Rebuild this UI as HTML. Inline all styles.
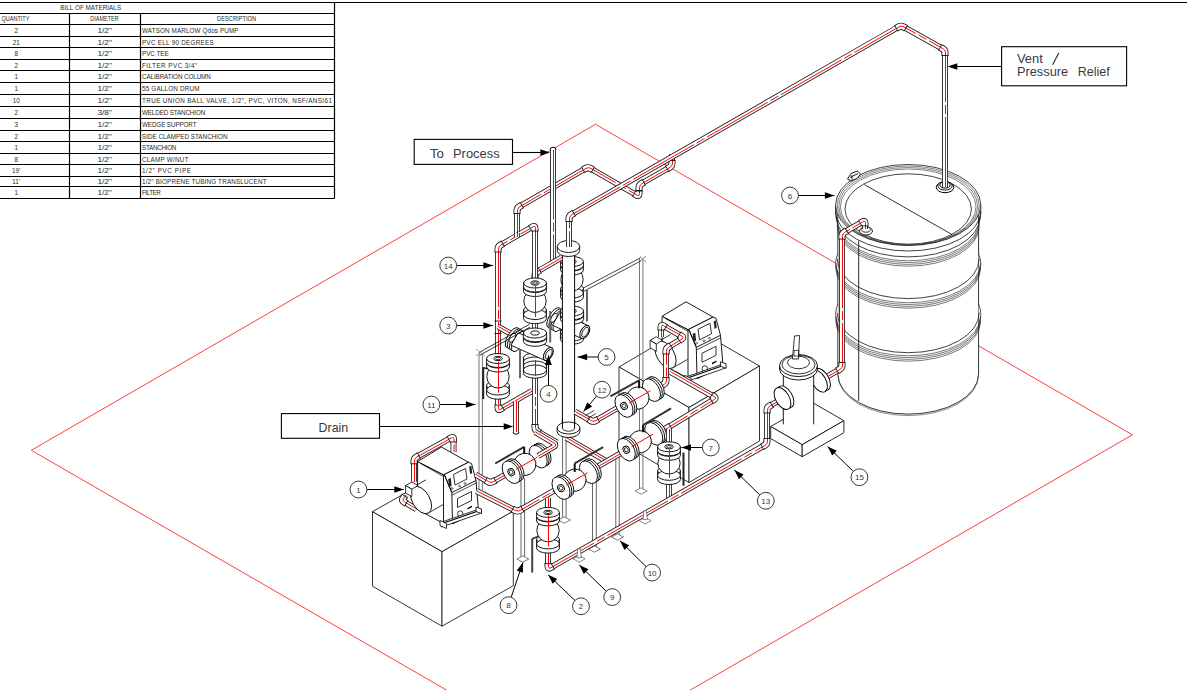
<!DOCTYPE html>
<html><head><meta charset="utf-8"><style>
html,body{margin:0;padding:0;background:#fff;width:1187px;height:690px;overflow:hidden}
svg{display:block}
text{font-family:"Liberation Sans",sans-serif}
</style></head><body>
<svg width="1187" height="690" viewBox="0 0 1187 690">
<rect width="1187" height="690" fill="#fff"/>
<g id="table" font-family="Liberation Sans" fill="#2a2a2a">
<line x1="0" y1="2.5" x2="1187" y2="2.5" stroke="#000" stroke-width="1.2" />
<line x1="0" y1="13.5" x2="334.5" y2="13.5" stroke="#000" stroke-width="1.2" />
<line x1="0" y1="24.5" x2="334.5" y2="24.5" stroke="#000" stroke-width="1.2" />
<line x1="0" y1="36.5" x2="334.5" y2="36.5" stroke="#000" stroke-width="1.2" />
<line x1="0" y1="47.5" x2="334.5" y2="47.5" stroke="#000" stroke-width="1.2" />
<line x1="0" y1="59.5" x2="334.5" y2="59.5" stroke="#000" stroke-width="1.2" />
<line x1="0" y1="70.5" x2="334.5" y2="70.5" stroke="#000" stroke-width="1.2" />
<line x1="0" y1="82.5" x2="334.5" y2="82.5" stroke="#000" stroke-width="1.2" />
<line x1="0" y1="94.5" x2="334.5" y2="94.5" stroke="#000" stroke-width="1.2" />
<line x1="0" y1="106.5" x2="334.5" y2="106.5" stroke="#000" stroke-width="1.2" />
<line x1="0" y1="118.5" x2="334.5" y2="118.5" stroke="#000" stroke-width="1.2" />
<line x1="0" y1="130.5" x2="334.5" y2="130.5" stroke="#000" stroke-width="1.2" />
<line x1="0" y1="141.5" x2="334.5" y2="141.5" stroke="#000" stroke-width="1.2" />
<line x1="0" y1="153.5" x2="334.5" y2="153.5" stroke="#000" stroke-width="1.2" />
<line x1="0" y1="164.5" x2="334.5" y2="164.5" stroke="#000" stroke-width="1.2" />
<line x1="0" y1="176.5" x2="334.5" y2="176.5" stroke="#000" stroke-width="1.2" />
<line x1="0" y1="186.5" x2="334.5" y2="186.5" stroke="#000" stroke-width="1.2" />
<line x1="0" y1="198.5" x2="334.5" y2="198.5" stroke="#000" stroke-width="1.2" />
<line x1="334.5" y1="2.5" x2="334.5" y2="198.5" stroke="#000" stroke-width="1.2" />
<line x1="69.5" y1="13.5" x2="69.5" y2="198.5" stroke="#000" stroke-width="1.2" />
<line x1="140.5" y1="13.5" x2="140.5" y2="198.5" stroke="#000" stroke-width="1.2" />
<text x="60.3" y="10" font-family="Liberation Sans" font-size="6.3" text-anchor="start" textLength="60.8" lengthAdjust="spacing" >BILL OF MATERIALS</text>
<text x="1.4" y="21.2" font-family="Liberation Sans" font-size="6.3" text-anchor="start" textLength="28" lengthAdjust="spacingAndGlyphs" >QUANTITY</text>
<text x="90.3" y="21.4" font-family="Liberation Sans" font-size="6.3" text-anchor="start" textLength="28.4" lengthAdjust="spacingAndGlyphs" >DIAMETER</text>
<text x="217" y="21.2" font-family="Liberation Sans" font-size="6.3" text-anchor="start" textLength="39.2" lengthAdjust="spacingAndGlyphs" >DESCRIPTION</text>
<text x="16.2" y="33.1" font-family="Liberation Sans" font-size="6.3" text-anchor="middle" >2</text>
<text x="104.7" y="33.1" font-family="Liberation Sans" font-size="6.3" text-anchor="middle" textLength="14.6" lengthAdjust="spacingAndGlyphs" >1/2&quot;</text>
<text x="142" y="33.1" font-family="Liberation Sans" font-size="6.3" text-anchor="start" textLength="96.5" lengthAdjust="spacing" >WATSON MARLOW Qdos PUMP</text>
<text x="16.2" y="44.6" font-family="Liberation Sans" font-size="6.3" text-anchor="middle" >21</text>
<text x="104.7" y="44.6" font-family="Liberation Sans" font-size="6.3" text-anchor="middle" textLength="14.6" lengthAdjust="spacingAndGlyphs" >1/2&quot;</text>
<text x="142" y="44.6" font-family="Liberation Sans" font-size="6.3" text-anchor="start" textLength="71.7" lengthAdjust="spacing" >PVC ELL 90 DEGREES</text>
<text x="16.2" y="56.1" font-family="Liberation Sans" font-size="6.3" text-anchor="middle" >8</text>
<text x="104.7" y="56.1" font-family="Liberation Sans" font-size="6.3" text-anchor="middle" textLength="14.6" lengthAdjust="spacingAndGlyphs" >1/2&quot;</text>
<text x="142" y="56.1" font-family="Liberation Sans" font-size="6.3" text-anchor="start" textLength="26.7" lengthAdjust="spacing" >PVC TEE</text>
<text x="16.2" y="67.6" font-family="Liberation Sans" font-size="6.3" text-anchor="middle" >2</text>
<text x="104.7" y="67.6" font-family="Liberation Sans" font-size="6.3" text-anchor="middle" textLength="14.6" lengthAdjust="spacingAndGlyphs" >1/2&quot;</text>
<text x="142" y="67.6" font-family="Liberation Sans" font-size="6.3" text-anchor="start" textLength="55.3" lengthAdjust="spacing" >FILTER PVC 3/4&quot;</text>
<text x="16.2" y="79.1" font-family="Liberation Sans" font-size="6.3" text-anchor="middle" >1</text>
<text x="104.7" y="79.1" font-family="Liberation Sans" font-size="6.3" text-anchor="middle" textLength="14.6" lengthAdjust="spacingAndGlyphs" >1/2&quot;</text>
<text x="142" y="79.1" font-family="Liberation Sans" font-size="6.3" text-anchor="start" textLength="68.8" lengthAdjust="spacing" >CALIBRATION COLUMN</text>
<text x="16.2" y="91.1" font-family="Liberation Sans" font-size="6.3" text-anchor="middle" >1</text>
<text x="104.7" y="91.1" font-family="Liberation Sans" font-size="6.3" text-anchor="middle" textLength="14.6" lengthAdjust="spacingAndGlyphs" >1/2&quot;</text>
<text x="142" y="91.1" font-family="Liberation Sans" font-size="6.3" text-anchor="start" textLength="57.5" lengthAdjust="spacing" >55 GALLON DRUM</text>
<text x="16.2" y="103.1" font-family="Liberation Sans" font-size="6.3" text-anchor="middle" >10</text>
<text x="104.7" y="103.1" font-family="Liberation Sans" font-size="6.3" text-anchor="middle" textLength="14.6" lengthAdjust="spacingAndGlyphs" >1/2&quot;</text>
<text x="142" y="103.1" font-family="Liberation Sans" font-size="6.3" text-anchor="start" textLength="189.9" lengthAdjust="spacing" >TRUE UNION BALL VALVE, 1/2&quot;, PVC, VITON, NSF/ANSI61</text>
<text x="16.2" y="115.1" font-family="Liberation Sans" font-size="6.3" text-anchor="middle" >2</text>
<text x="104.7" y="115.1" font-family="Liberation Sans" font-size="6.3" text-anchor="middle" textLength="14.6" lengthAdjust="spacingAndGlyphs" >3/8&quot;</text>
<text x="142" y="115.1" font-family="Liberation Sans" font-size="6.3" text-anchor="start" textLength="63.2" lengthAdjust="spacing" >WELDED STANCHION</text>
<text x="16.2" y="127.1" font-family="Liberation Sans" font-size="6.3" text-anchor="middle" >3</text>
<text x="104.7" y="127.1" font-family="Liberation Sans" font-size="6.3" text-anchor="middle" textLength="14.6" lengthAdjust="spacingAndGlyphs" >1/2&quot;</text>
<text x="142" y="127.1" font-family="Liberation Sans" font-size="6.3" text-anchor="start" textLength="54.5" lengthAdjust="spacing" >WEDGE SUPPORT</text>
<text x="16.2" y="138.6" font-family="Liberation Sans" font-size="6.3" text-anchor="middle" >2</text>
<text x="104.7" y="138.6" font-family="Liberation Sans" font-size="6.3" text-anchor="middle" textLength="14.6" lengthAdjust="spacingAndGlyphs" >1/2&quot;</text>
<text x="142" y="138.6" font-family="Liberation Sans" font-size="6.3" text-anchor="start" textLength="85.5" lengthAdjust="spacing" >SIDE CLAMPED STANCHION</text>
<text x="16.2" y="150.1" font-family="Liberation Sans" font-size="6.3" text-anchor="middle" >1</text>
<text x="104.7" y="150.1" font-family="Liberation Sans" font-size="6.3" text-anchor="middle" textLength="14.6" lengthAdjust="spacingAndGlyphs" >1/2&quot;</text>
<text x="142" y="150.1" font-family="Liberation Sans" font-size="6.3" text-anchor="start" textLength="34.3" lengthAdjust="spacing" >STANCHION</text>
<text x="16.2" y="161.6" font-family="Liberation Sans" font-size="6.3" text-anchor="middle" >8</text>
<text x="104.7" y="161.6" font-family="Liberation Sans" font-size="6.3" text-anchor="middle" textLength="14.6" lengthAdjust="spacingAndGlyphs" >1/2&quot;</text>
<text x="142" y="161.6" font-family="Liberation Sans" font-size="6.3" text-anchor="start" textLength="46.5" lengthAdjust="spacing" >CLAMP W/NUT</text>
<text x="16.2" y="173.1" font-family="Liberation Sans" font-size="6.3" text-anchor="middle" >19'</text>
<text x="104.7" y="173.1" font-family="Liberation Sans" font-size="6.3" text-anchor="middle" textLength="14.6" lengthAdjust="spacingAndGlyphs" >1/2&quot;</text>
<text x="142" y="173.1" font-family="Liberation Sans" font-size="6.3" text-anchor="start" textLength="48.9" lengthAdjust="spacing" >1/2&quot; PVC PIPE</text>
<text x="16.2" y="184.1" font-family="Liberation Sans" font-size="6.3" text-anchor="middle" >11'</text>
<text x="104.7" y="184.1" font-family="Liberation Sans" font-size="6.3" text-anchor="middle" textLength="14.6" lengthAdjust="spacingAndGlyphs" >1/2&quot;</text>
<text x="142" y="184.1" font-family="Liberation Sans" font-size="6.3" text-anchor="start" textLength="124.5" lengthAdjust="spacing" >1/2&quot; BIOPRENE TUBING TRANSLUCENT</text>
<text x="16.2" y="195.1" font-family="Liberation Sans" font-size="6.3" text-anchor="middle" >1</text>
<text x="104.7" y="195.1" font-family="Liberation Sans" font-size="6.3" text-anchor="middle" textLength="14.6" lengthAdjust="spacingAndGlyphs" >1/2&quot;</text>
<text x="142" y="195.1" font-family="Liberation Sans" font-size="6.3" text-anchor="start" textLength="18.8" lengthAdjust="spacing" >FILTER</text>
</g>
<polyline points="463.76,700 31.3,450.3 595.5,124.3 1132.4,434.8 673.1,700" stroke="#ff2a2a" stroke-width="0.9" fill="none" />
<path d="M837.8,205 L837.8,374 A70.4,40.199999999999996 0 0 0 978.6,374 L978.6,205 Z" fill="#fff" stroke="#111" stroke-width="0.85"/>
<path d="M838.1,375.6 A70.1,40 0 0 0 978.3,375.6" fill="none" stroke="#444" stroke-width="0.6"/>
<line x1="835.6" y1="205" x2="835.6" y2="213" stroke="#111" stroke-width="0.85" />
<line x1="980.8" y1="205" x2="980.8" y2="213" stroke="#111" stroke-width="0.85" />
<path d="M835.6,213 Q835.6,219 837.8,223" fill="none" stroke="#111" stroke-width="0.8"/>
<path d="M980.8,213 Q980.8,219 978.6,223" fill="none" stroke="#111" stroke-width="0.8"/>
<path d="M835.6,211.2 A72.6,39.8 0 0 0 980.8,211.2" fill="none" stroke="#111" stroke-width="0.8"/>
<path d="M836.4,217.1 A71.8,39.8 0 0 0 980,217.1" fill="none" stroke="#111" stroke-width="0.8"/>
<path d="M837.2,221 A71,39.8 0 0 0 979.2,221" fill="none" stroke="#333" stroke-width="0.65"/>
<path d="M837.2,222.8 A71,39.8 0 0 0 979.2,222.8" fill="none" stroke="#333" stroke-width="0.65"/>
<path d="M837.2,224.6 A71,39.8 0 0 0 979.2,224.6" fill="none" stroke="#333" stroke-width="0.65"/>
<path d="M837.2,226.4 A71,39.8 0 0 0 979.2,226.4" fill="none" stroke="#333" stroke-width="0.65"/>
<path d="M837.8,254 Q833.4,263.5 837.8,273" fill="#fff" stroke="#222" stroke-width="0.75"/>
<path d="M978.6,254 Q983,263.5 978.6,273" fill="#fff" stroke="#222" stroke-width="0.75"/>
<path d="M837.2,258.8 A71,39.8 0 0 0 979.2,258.8" fill="none" stroke="#111" stroke-width="0.8"/>
<path d="M835.8,263 A72.4,39.8 0 0 0 980.6,263" fill="none" stroke="#333" stroke-width="0.65"/>
<path d="M835.8,264.8 A72.4,39.8 0 0 0 980.6,264.8" fill="none" stroke="#333" stroke-width="0.65"/>
<path d="M835.8,266.6 A72.4,39.8 0 0 0 980.6,266.6" fill="none" stroke="#333" stroke-width="0.65"/>
<path d="M835.8,268.4 A72.4,39.8 0 0 0 980.6,268.4" fill="none" stroke="#333" stroke-width="0.65"/>
<path d="M837.8,304 Q833.4,314.5 837.8,325" fill="#fff" stroke="#222" stroke-width="0.75"/>
<path d="M978.6,304 Q983,314.5 978.6,325" fill="#fff" stroke="#222" stroke-width="0.75"/>
<path d="M837.2,312.9 A71,39.8 0 0 0 979.2,312.9" fill="none" stroke="#111" stroke-width="0.8"/>
<path d="M835.8,316 A72.4,39.8 0 0 0 980.6,316" fill="none" stroke="#333" stroke-width="0.65"/>
<path d="M835.8,317.8 A72.4,39.8 0 0 0 980.6,317.8" fill="none" stroke="#333" stroke-width="0.65"/>
<path d="M835.8,319.6 A72.4,39.8 0 0 0 980.6,319.6" fill="none" stroke="#333" stroke-width="0.65"/>
<path d="M835.8,321.4 A72.4,39.8 0 0 0 980.6,321.4" fill="none" stroke="#333" stroke-width="0.65"/>
<line x1="858.7" y1="241" x2="858.7" y2="401" stroke="#111" stroke-width="0.9" />
<ellipse cx="908.2" cy="205" rx="72.6" ry="40.5" stroke="#111" stroke-width="0.8" fill="#fff" />
<ellipse cx="908.2" cy="205.6" rx="71" ry="39.6" stroke="#333" stroke-width="0.6" fill="none" />
<ellipse cx="908.2" cy="206.2" rx="69.4" ry="38.71" stroke="#333" stroke-width="0.6" fill="none" />
<ellipse cx="908.2" cy="206.8" rx="67.8" ry="37.81" stroke="#333" stroke-width="0.6" fill="none" />
<ellipse cx="908.2" cy="209" rx="63.2" ry="35.2" stroke="#111" stroke-width="0.8" fill="#fff" />
<line x1="864.3" y1="184.5" x2="952" y2="234.5" stroke="#000" stroke-width="0.8" />
<polygon points="847.5,179 851,173.5 857.5,171 860.5,174 857,178.5 851,181" stroke="#111" stroke-width="1.0" fill="#fff" />
<line x1="850" y1="177.5" x2="858" y2="173.5" stroke="#000" stroke-width="0.9" />
<line x1="852" y1="175" x2="852" y2="180" stroke="#000" stroke-width="0.8" />
<ellipse cx="945" cy="187.3" rx="8.8" ry="5.4" stroke="#000" stroke-width="1.0" fill="#fff" />
<ellipse cx="945" cy="185.8" rx="7.2" ry="4.3" stroke="#000" stroke-width="0.9" fill="#fff" />
<ellipse cx="945" cy="185" rx="5.2" ry="3.1" stroke="#000" stroke-width="1.0" fill="#fff" />
<ellipse cx="866" cy="231" rx="6.5" ry="4" stroke="#000" stroke-width="0.9" fill="#fff" />
<ellipse cx="866" cy="229.5" rx="4.4" ry="2.7" stroke="#000" stroke-width="0.8" fill="#fff" />
<polygon points="619,367 689.5,325.5 759.5,366 689,407.5" stroke="#111" stroke-width="0.85" fill="#fff" />
<polygon points="619,367 689,407.5 689,482.5 619,442" stroke="#111" stroke-width="0.85" fill="#fff" />
<polygon points="689,407.5 759.5,366 759.5,441 689,482.5" stroke="#111" stroke-width="0.85" fill="#fff" />
<path d="M672,154 L672,162 Q672,166 668.53,168 L642.47,183 Q639,185 639,189 L639,192.5 Q639,196.5 635.54,194.5 L591.46,169 Q588,167 584.54,169 L520.46,206 Q517,208 517,212 L517,233" stroke="#1a1a1a" stroke-width="6.0" fill="none" stroke-linejoin="round" stroke-linecap="butt"/>
<path d="M672,154 L672,162 Q672,166 668.53,168 L642.47,183 Q639,185 639,189 L639,192.5 Q639,196.5 635.54,194.5 L591.46,169 Q588,167 584.54,169 L520.46,206 Q517,208 517,212 L517,233" stroke="#fff" stroke-width="4.3" fill="none" stroke-linejoin="round" stroke-linecap="butt"/>
<path d="M672,154 L672,162 Q672,166 668.53,168 L642.47,183 Q639,185 639,189 L639,192.5 Q639,196.5 635.54,194.5 L591.46,169 Q588,167 584.54,169 L520.46,206 Q517,208 517,212 L517,233" stroke="#f00" stroke-width="1" fill="none" stroke-dasharray="70 3 9 3" stroke-linejoin="round" transform="translate(0.5,0)"/>
<path d="M672,160.5 L672,163.25 Q672,166 669.62,167.37 L667.23,168.74" stroke="#1a1a1a" stroke-width="7.0" fill="none" stroke-linejoin="round"/>
<path d="M672,160.5 L672,163.25 Q672,166 669.62,167.37 L667.23,168.74" stroke="#fff" stroke-width="5.3" fill="none" stroke-linejoin="round"/>
<path d="M672,160.5 L672,163.25 Q672,166 669.62,167.37 L667.23,168.74" stroke="#f00" stroke-width="1" fill="none" stroke-linejoin="round" transform="translate(0.5,0)"/>
<path d="M643.77,182.26 L641.38,183.63 Q639,185 639,187.75 L639,190.5" stroke="#1a1a1a" stroke-width="7.0" fill="none" stroke-linejoin="round"/>
<path d="M643.77,182.26 L641.38,183.63 Q639,185 639,187.75 L639,190.5" stroke="#fff" stroke-width="5.3" fill="none" stroke-linejoin="round"/>
<path d="M643.77,182.26 L641.38,183.63 Q639,185 639,187.75 L639,190.5" stroke="#f00" stroke-width="1" fill="none" stroke-linejoin="round" transform="translate(0.5,0)"/>
<path d="M639,191 L639,193.75 Q639,196.5 636.62,195.12 L634.24,193.75" stroke="#1a1a1a" stroke-width="7.0" fill="none" stroke-linejoin="round"/>
<path d="M639,191 L639,193.75 Q639,196.5 636.62,195.12 L634.24,193.75" stroke="#fff" stroke-width="5.3" fill="none" stroke-linejoin="round"/>
<path d="M639,191 L639,193.75 Q639,196.5 636.62,195.12 L634.24,193.75" stroke="#f00" stroke-width="1" fill="none" stroke-linejoin="round" transform="translate(0.5,0)"/>
<path d="M592.76,169.75 L590.38,168.38 Q588,167 585.62,168.38 L583.24,169.75" stroke="#1a1a1a" stroke-width="7.0" fill="none" stroke-linejoin="round"/>
<path d="M592.76,169.75 L590.38,168.38 Q588,167 585.62,168.38 L583.24,169.75" stroke="#fff" stroke-width="5.3" fill="none" stroke-linejoin="round"/>
<path d="M592.76,169.75 L590.38,168.38 Q588,167 585.62,168.38 L583.24,169.75" stroke="#f00" stroke-width="1" fill="none" stroke-linejoin="round" transform="translate(0.5,0)"/>
<path d="M521.76,205.25 L519.38,206.62 Q517,208 517,210.75 L517,213.5" stroke="#1a1a1a" stroke-width="7.0" fill="none" stroke-linejoin="round"/>
<path d="M521.76,205.25 L519.38,206.62 Q517,208 517,210.75 L517,213.5" stroke="#fff" stroke-width="5.3" fill="none" stroke-linejoin="round"/>
<path d="M521.76,205.25 L519.38,206.62 Q517,208 517,210.75 L517,213.5" stroke="#f00" stroke-width="1" fill="none" stroke-linejoin="round" transform="translate(0.5,0)"/>
<line x1="675.5" y1="160.5" x2="668.5" y2="160.5" stroke="#000" stroke-width="0.8"/>
<line x1="665.49" y1="165.71" x2="668.98" y2="171.78" stroke="#000" stroke-width="0.8"/>
<line x1="645.51" y1="185.29" x2="642.02" y2="179.22" stroke="#000" stroke-width="0.8"/>
<line x1="635.5" y1="190.5" x2="642.5" y2="190.5" stroke="#000" stroke-width="0.8"/>
<line x1="642.5" y1="191" x2="635.5" y2="191" stroke="#000" stroke-width="0.8"/>
<line x1="635.99" y1="190.72" x2="632.49" y2="196.78" stroke="#000" stroke-width="0.8"/>
<line x1="591.01" y1="172.78" x2="594.51" y2="166.72" stroke="#000" stroke-width="0.8"/>
<line x1="581.49" y1="166.72" x2="584.99" y2="172.78" stroke="#000" stroke-width="0.8"/>
<line x1="523.51" y1="208.28" x2="520.01" y2="202.22" stroke="#000" stroke-width="0.8"/>
<line x1="513.5" y1="213.5" x2="520.5" y2="213.5" stroke="#000" stroke-width="0.8"/>
<path d="M945,187 L945,54 Q945,50 941.51,48.05 L904.49,27.45 Q901,25.5 897.53,27.49 L572.47,214.01 Q569,216 569,220 L569,244" stroke="#1a1a1a" stroke-width="6.0" fill="none" stroke-linejoin="round" stroke-linecap="butt"/>
<path d="M945,187 L945,54 Q945,50 941.51,48.05 L904.49,27.45 Q901,25.5 897.53,27.49 L572.47,214.01 Q569,216 569,220 L569,244" stroke="#fff" stroke-width="4.3" fill="none" stroke-linejoin="round" stroke-linecap="butt"/>
<path d="M945,187 L945,54 Q945,50 941.51,48.05 L904.49,27.45 Q901,25.5 897.53,27.49 L572.47,214.01 Q569,216 569,220 L569,244" stroke="#f00" stroke-width="1" fill="none" stroke-dasharray="70 3 9 3" stroke-linejoin="round" transform="translate(0.5,0)"/>
<path d="M945,55.5 L945,52.75 Q945,50 942.6,48.66 L940.19,47.32" stroke="#1a1a1a" stroke-width="7.0" fill="none" stroke-linejoin="round"/>
<path d="M945,55.5 L945,52.75 Q945,50 942.6,48.66 L940.19,47.32" stroke="#fff" stroke-width="5.3" fill="none" stroke-linejoin="round"/>
<path d="M945,55.5 L945,52.75 Q945,50 942.6,48.66 L940.19,47.32" stroke="#f00" stroke-width="1" fill="none" stroke-linejoin="round" transform="translate(0.5,0)"/>
<path d="M905.81,28.18 L903.4,26.84 Q901,25.5 898.61,26.87 L896.23,28.24" stroke="#1a1a1a" stroke-width="7.0" fill="none" stroke-linejoin="round"/>
<path d="M905.81,28.18 L903.4,26.84 Q901,25.5 898.61,26.87 L896.23,28.24" stroke="#fff" stroke-width="5.3" fill="none" stroke-linejoin="round"/>
<path d="M905.81,28.18 L903.4,26.84 Q901,25.5 898.61,26.87 L896.23,28.24" stroke="#f00" stroke-width="1" fill="none" stroke-linejoin="round" transform="translate(0.5,0)"/>
<path d="M573.77,213.26 L571.39,214.63 Q569,216 569,218.75 L569,221.5" stroke="#1a1a1a" stroke-width="7.0" fill="none" stroke-linejoin="round"/>
<path d="M573.77,213.26 L571.39,214.63 Q569,216 569,218.75 L569,221.5" stroke="#fff" stroke-width="5.3" fill="none" stroke-linejoin="round"/>
<path d="M573.77,213.26 L571.39,214.63 Q569,216 569,218.75 L569,221.5" stroke="#f00" stroke-width="1" fill="none" stroke-linejoin="round" transform="translate(0.5,0)"/>
<line x1="941.5" y1="55.5" x2="948.5" y2="55.5" stroke="#000" stroke-width="0.8"/>
<line x1="941.9" y1="44.27" x2="938.49" y2="50.38" stroke="#000" stroke-width="0.8"/>
<line x1="904.1" y1="31.23" x2="907.51" y2="25.12" stroke="#000" stroke-width="0.8"/>
<line x1="894.49" y1="25.2" x2="897.97" y2="31.27" stroke="#000" stroke-width="0.8"/>
<line x1="575.51" y1="216.3" x2="572.03" y2="210.23" stroke="#000" stroke-width="0.8"/>
<line x1="565.5" y1="221.5" x2="572.5" y2="221.5" stroke="#000" stroke-width="0.8"/>
<line x1="639.5" y1="259" x2="639.5" y2="491" stroke="#666" stroke-width="0.9" />
<line x1="642.9" y1="259" x2="642.9" y2="491" stroke="#666" stroke-width="0.9" />
<polygon points="635.2,491 641.2,487.8 647.2,491 641.2,494.2" stroke="#666" stroke-width="0.8" fill="#fff" />
<line x1="583" y1="288.2" x2="640.5" y2="257.8" stroke="#222" stroke-width="0.85" />
<line x1="584" y1="291.2" x2="641" y2="260.8" stroke="#222" stroke-width="0.85" />
<line x1="639.5" y1="256" x2="646" y2="262" stroke="#777" stroke-width="0.8" />
<line x1="646" y1="256" x2="639.5" y2="262" stroke="#777" stroke-width="0.8" />
<path d="M571,250 L571,345" stroke="#1a1a1a" stroke-width="6.0" fill="none" stroke-linejoin="round" stroke-linecap="butt"/>
<path d="M571,250 L571,345" stroke="#fff" stroke-width="4.3" fill="none" stroke-linejoin="round" stroke-linecap="butt"/>
<path d="M571,250 L571,345" stroke="#f00" stroke-width="1" fill="none" stroke-dasharray="70 3 9 3" stroke-linejoin="round" transform="translate(0.5,0)"/>
<path d="M560.6,288.5 L560.6,292.7 A11.4,5 0 0 0 583.4,292.7 L583.4,288.5 Z" fill="#fff" stroke="#000" stroke-width="0.9"/>
<ellipse cx="572" cy="288.5" rx="11.4" ry="5" stroke="#000" stroke-width="0.9" fill="#fff" />
<path d="M560.6,293 L560.6,297.2 A11.4,5 0 0 0 583.4,297.2 L583.4,293 Z" fill="#fff" stroke="#000" stroke-width="0.9"/>
<ellipse cx="572" cy="293" rx="11.4" ry="5" stroke="#000" stroke-width="0.9" fill="#fff" />
<ellipse cx="572" cy="279.5" rx="11.17" ry="11.5" stroke="#000" stroke-width="0.9" fill="#fff" />
<path d="M560.6,266 L560.6,270 A11.4,5 0 0 0 583.4,270 L583.4,266 Z" fill="#fff" stroke="#000" stroke-width="0.9"/>
<ellipse cx="572" cy="266" rx="11.4" ry="5" stroke="#000" stroke-width="0.9" fill="#fff" />
<path d="M560.6,261.5 L560.6,265.5 A11.4,5 0 0 0 583.4,265.5 L583.4,261.5 Z" fill="#fff" stroke="#000" stroke-width="0.9"/>
<ellipse cx="572" cy="261.5" rx="11.4" ry="5" stroke="#000" stroke-width="0.9" fill="#fff" />
<ellipse cx="572" cy="261.5" rx="4.2" ry="2.1" stroke="#000" stroke-width="0.9" fill="#fff" />
<ellipse cx="572" cy="261.5" rx="2.4" ry="1.2" stroke="#000" stroke-width="0.8" fill="#fff" />
<line x1="572.5" y1="264.5" x2="572.5" y2="295.5" stroke="#f00" stroke-width="1" />
<path d="M560.4,324 L560.4,327.2 A11.6,5 0 0 0 583.6,327.2 L583.6,324 Z" fill="#fff" stroke="#000" stroke-width="0.9"/>
<ellipse cx="572" cy="324" rx="11.6" ry="5" stroke="#000" stroke-width="0.9" fill="#fff" />
<path d="M560.4,328 L560.4,331.2 A11.6,5 0 0 0 583.6,331.2 L583.6,328 Z" fill="#fff" stroke="#000" stroke-width="0.9"/>
<ellipse cx="572" cy="328" rx="11.6" ry="5" stroke="#000" stroke-width="0.9" fill="#fff" />
<path d="M560.4,332 L560.4,335.2 A11.6,5 0 0 0 583.6,335.2 L583.6,332 Z" fill="#fff" stroke="#000" stroke-width="0.9"/>
<ellipse cx="572" cy="332" rx="11.6" ry="5" stroke="#000" stroke-width="0.9" fill="#fff" />
<path d="M560.4,336 L560.4,339.2 A11.6,5 0 0 0 583.6,339.2 L583.6,336 Z" fill="#fff" stroke="#000" stroke-width="0.9"/>
<ellipse cx="572" cy="336" rx="11.6" ry="5" stroke="#000" stroke-width="0.9" fill="#fff" />
<ellipse cx="553.92" cy="317.8" rx="5" ry="11.4" stroke="#000" stroke-width="0.85" fill="#fff" transform="rotate(30 553.92 317.8)" />
<ellipse cx="556" cy="319" rx="5" ry="11.4" stroke="#000" stroke-width="0.85" fill="#fff" transform="rotate(30 556 319)" />
<ellipse cx="558.08" cy="320.2" rx="5" ry="11.4" stroke="#000" stroke-width="0.85" fill="#fff" transform="rotate(30 558.08 320.2)" />
<ellipse cx="560.16" cy="321.4" rx="5" ry="11.4" stroke="#000" stroke-width="0.85" fill="#fff" transform="rotate(30 560.16 321.4)" />
<ellipse cx="553.92" cy="317.8" rx="2.4" ry="5" stroke="#000" stroke-width="0.8" fill="#fff" transform="rotate(30 553.92 317.8)" />
<polygon points="552.4,325.24 581.2,338.24 588.4,325.76 559.6,312.76" stroke="#000" stroke-width="0.9" fill="#fff" />
<path d="M560.4,315.5 L560.4,319.3 A11.6,5 0 0 0 583.6,319.3 L583.6,315.5 Z" fill="#fff" stroke="#000" stroke-width="0.9"/>
<ellipse cx="572" cy="315.5" rx="11.6" ry="5" stroke="#000" stroke-width="0.9" fill="#fff" />
<path d="M560.4,311 L560.4,314.8 A11.6,5 0 0 0 583.6,314.8 L583.6,311 Z" fill="#fff" stroke="#000" stroke-width="0.9"/>
<ellipse cx="572" cy="311" rx="11.6" ry="5" stroke="#000" stroke-width="0.9" fill="#fff" />
<ellipse cx="572" cy="311" rx="4.2" ry="2.1" stroke="#000" stroke-width="0.9" fill="#fff" />
<ellipse cx="584.8" cy="332" rx="4" ry="7.2" stroke="#000" stroke-width="1.0" fill="#fff" transform="rotate(30 584.8 332)" />
<ellipse cx="585.2" cy="332.2" rx="2.6" ry="5.4" stroke="#000" stroke-width="0.8" fill="#f2f2f2" transform="rotate(30 585.2 332.2)" />
<line x1="587" y1="290" x2="587" y2="321.5" stroke="#666" stroke-width="2.0" />
<rect x="562.4" y="250" width="12.2" height="176" fill="#fff" stroke="none"/>
<line x1="562.4" y1="251" x2="562.4" y2="428" stroke="#000" stroke-width="1.0" />
<line x1="574.6" y1="251" x2="574.6" y2="428" stroke="#000" stroke-width="1.0" />
<path d="M553,149.5 L553,262" stroke="#1a1a1a" stroke-width="6.0" fill="none" stroke-linejoin="round" stroke-linecap="butt"/>
<path d="M553,149.5 L553,262" stroke="#fff" stroke-width="4.3" fill="none" stroke-linejoin="round" stroke-linecap="butt"/>
<path d="M553,149.5 L553,262" stroke="#f00" stroke-width="1" fill="none" stroke-dasharray="70 3 9 3" stroke-linejoin="round" transform="translate(0.5,0)"/>
<path d="M550,150 Q550,147.2 553,147.2 Q556,147.2 556,150" fill="#fff" stroke="#000" stroke-width="1"/>
<path d="M535,281 L535,277 Q535,273 538.45,270.98 L561.5,257.5" stroke="#1a1a1a" stroke-width="6.0" fill="none" stroke-linejoin="round" stroke-linecap="butt"/>
<path d="M535,281 L535,277 Q535,273 538.45,270.98 L561.5,257.5" stroke="#fff" stroke-width="4.3" fill="none" stroke-linejoin="round" stroke-linecap="butt"/>
<path d="M535,281 L535,277 Q535,273 538.45,270.98 L561.5,257.5" stroke="#f00" stroke-width="1" fill="none" stroke-dasharray="70 3 9 3" stroke-linejoin="round" transform="translate(0.5,0)"/>
<path d="M535,278.5 L535,275.75 Q535,273 537.37,271.61 L539.75,270.22" stroke="#1a1a1a" stroke-width="7.0" fill="none" stroke-linejoin="round"/>
<path d="M535,278.5 L535,275.75 Q535,273 537.37,271.61 L539.75,270.22" stroke="#fff" stroke-width="5.3" fill="none" stroke-linejoin="round"/>
<path d="M535,278.5 L535,275.75 Q535,273 537.37,271.61 L539.75,270.22" stroke="#f00" stroke-width="1" fill="none" stroke-linejoin="round" transform="translate(0.5,0)"/>
<line x1="531.5" y1="278.5" x2="538.5" y2="278.5" stroke="#000" stroke-width="0.8"/>
<line x1="541.51" y1="273.24" x2="537.98" y2="267.2" stroke="#000" stroke-width="0.8"/>
<path d="M557.3,246.5 L557.3,250.5 A11.2,6 0 0 0 579.7,250.5 L579.7,246.5 Z" fill="#fff" stroke="#000" stroke-width="0.9"/>
<ellipse cx="568.5" cy="246.5" rx="11.2" ry="6" stroke="#000" stroke-width="0.9" fill="#fff" />
<path d="M569,236 L569,247" stroke="#1a1a1a" stroke-width="6.0" fill="none" stroke-linejoin="round" stroke-linecap="butt"/>
<path d="M569,236 L569,247" stroke="#fff" stroke-width="4.3" fill="none" stroke-linejoin="round" stroke-linecap="butt"/>
<path d="M569,236 L569,247" stroke="#f00" stroke-width="1" fill="none" stroke-dasharray="70 3 9 3" stroke-linejoin="round" transform="translate(0.5,0)"/>
<path d="M535,281 L535,229.5 Q535,225.5 531.52,227.47 L501.48,244.53 Q498,246.5 498,250.5 L498,406.5 Q498,410.5 501.47,408.51 L532,391" stroke="#1a1a1a" stroke-width="6.0" fill="none" stroke-linejoin="round" stroke-linecap="butt"/>
<path d="M535,281 L535,229.5 Q535,225.5 531.52,227.47 L501.48,244.53 Q498,246.5 498,250.5 L498,406.5 Q498,410.5 501.47,408.51 L532,391" stroke="#fff" stroke-width="4.3" fill="none" stroke-linejoin="round" stroke-linecap="butt"/>
<path d="M535,281 L535,229.5 Q535,225.5 531.52,227.47 L501.48,244.53 Q498,246.5 498,250.5 L498,406.5 Q498,410.5 501.47,408.51 L532,391" stroke="#f00" stroke-width="1" fill="none" stroke-dasharray="70 3 9 3" stroke-linejoin="round" transform="translate(0.5,0)"/>
<path d="M535,231 L535,228.25 Q535,225.5 532.61,226.86 L530.22,228.21" stroke="#1a1a1a" stroke-width="7.0" fill="none" stroke-linejoin="round"/>
<path d="M535,231 L535,228.25 Q535,225.5 532.61,226.86 L530.22,228.21" stroke="#fff" stroke-width="5.3" fill="none" stroke-linejoin="round"/>
<path d="M535,231 L535,228.25 Q535,225.5 532.61,226.86 L530.22,228.21" stroke="#f00" stroke-width="1" fill="none" stroke-linejoin="round" transform="translate(0.5,0)"/>
<path d="M502.78,243.79 L500.39,245.14 Q498,246.5 498,249.25 L498,252" stroke="#1a1a1a" stroke-width="7.0" fill="none" stroke-linejoin="round"/>
<path d="M502.78,243.79 L500.39,245.14 Q498,246.5 498,249.25 L498,252" stroke="#fff" stroke-width="5.3" fill="none" stroke-linejoin="round"/>
<path d="M502.78,243.79 L500.39,245.14 Q498,246.5 498,249.25 L498,252" stroke="#f00" stroke-width="1" fill="none" stroke-linejoin="round" transform="translate(0.5,0)"/>
<path d="M498,405 L498,407.75 Q498,410.5 500.39,409.13 L502.77,407.76" stroke="#1a1a1a" stroke-width="7.0" fill="none" stroke-linejoin="round"/>
<path d="M498,405 L498,407.75 Q498,410.5 500.39,409.13 L502.77,407.76" stroke="#fff" stroke-width="5.3" fill="none" stroke-linejoin="round"/>
<path d="M498,405 L498,407.75 Q498,410.5 500.39,409.13 L502.77,407.76" stroke="#f00" stroke-width="1" fill="none" stroke-linejoin="round" transform="translate(0.5,0)"/>
<line x1="531.5" y1="231" x2="538.5" y2="231" stroke="#000" stroke-width="0.8"/>
<line x1="528.49" y1="225.17" x2="531.94" y2="231.26" stroke="#000" stroke-width="0.8"/>
<line x1="504.51" y1="246.83" x2="501.06" y2="240.74" stroke="#000" stroke-width="0.8"/>
<line x1="494.5" y1="252" x2="501.5" y2="252" stroke="#000" stroke-width="0.8"/>
<line x1="501.5" y1="405" x2="494.5" y2="405" stroke="#000" stroke-width="0.8"/>
<line x1="504.51" y1="410.8" x2="501.03" y2="404.73" stroke="#000" stroke-width="0.8"/>
<path d="M517,233 L517,237" stroke="#1a1a1a" stroke-width="6.0" fill="none" stroke-linejoin="round" stroke-linecap="butt"/>
<path d="M517,233 L517,237" stroke="#fff" stroke-width="4.3" fill="none" stroke-linejoin="round" stroke-linecap="butt"/>
<path d="M517,233 L517,237" stroke="#f00" stroke-width="1" fill="none" stroke-dasharray="70 3 9 3" stroke-linejoin="round" transform="translate(0.5,0)"/>
<line x1="494.5" y1="321" x2="501.5" y2="321" stroke="#000" stroke-width="0.8" />
<line x1="494.5" y1="333.5" x2="501.5" y2="333.5" stroke="#000" stroke-width="0.8" />
<path d="M523.6,310 L523.6,314.2 A11.4,5 0 0 0 546.4,314.2 L546.4,310 Z" fill="#fff" stroke="#000" stroke-width="0.9"/>
<ellipse cx="535" cy="310" rx="11.4" ry="5" stroke="#000" stroke-width="0.9" fill="#fff" />
<path d="M523.6,314.5 L523.6,318.7 A11.4,5 0 0 0 546.4,318.7 L546.4,314.5 Z" fill="#fff" stroke="#000" stroke-width="0.9"/>
<ellipse cx="535" cy="314.5" rx="11.4" ry="5" stroke="#000" stroke-width="0.9" fill="#fff" />
<ellipse cx="535" cy="301" rx="11.17" ry="11.5" stroke="#000" stroke-width="0.9" fill="#fff" />
<path d="M523.6,287.5 L523.6,291.5 A11.4,5 0 0 0 546.4,291.5 L546.4,287.5 Z" fill="#fff" stroke="#000" stroke-width="0.9"/>
<ellipse cx="535" cy="287.5" rx="11.4" ry="5" stroke="#000" stroke-width="0.9" fill="#fff" />
<path d="M523.6,283 L523.6,287 A11.4,5 0 0 0 546.4,287 L546.4,283 Z" fill="#fff" stroke="#000" stroke-width="0.9"/>
<ellipse cx="535" cy="283" rx="11.4" ry="5" stroke="#000" stroke-width="0.9" fill="#fff" />
<ellipse cx="535" cy="283" rx="4.2" ry="2.1" stroke="#000" stroke-width="0.9" fill="#fff" />
<ellipse cx="535" cy="283" rx="2.4" ry="1.2" stroke="#000" stroke-width="0.8" fill="#fff" />
<line x1="535.5" y1="286" x2="535.5" y2="317" stroke="#f00" stroke-width="1" />
<path d="M498,326.5 L512,334.5" stroke="#1a1a1a" stroke-width="6.0" fill="none" stroke-linejoin="round" stroke-linecap="butt"/>
<path d="M498,326.5 L512,334.5" stroke="#fff" stroke-width="4.3" fill="none" stroke-linejoin="round" stroke-linecap="butt"/>
<path d="M498,326.5 L512,334.5" stroke="#f00" stroke-width="1" fill="none" stroke-dasharray="70 3 9 3" stroke-linejoin="round" transform="translate(0.5,0)"/>
<path d="M535,324 L535,426 Q535,430 538.48,431.98 L557,442.5" stroke="#1a1a1a" stroke-width="6.0" fill="none" stroke-linejoin="round" stroke-linecap="butt"/>
<path d="M535,324 L535,426 Q535,430 538.48,431.98 L557,442.5" stroke="#fff" stroke-width="4.3" fill="none" stroke-linejoin="round" stroke-linecap="butt"/>
<path d="M535,324 L535,426 Q535,430 538.48,431.98 L557,442.5" stroke="#f00" stroke-width="1" fill="none" stroke-dasharray="70 3 9 3" stroke-linejoin="round" transform="translate(0.5,0)"/>
<path d="M535,424.5 L535,427.25 Q535,430 537.39,431.36 L539.78,432.72" stroke="#1a1a1a" stroke-width="7.0" fill="none" stroke-linejoin="round"/>
<path d="M535,424.5 L535,427.25 Q535,430 537.39,431.36 L539.78,432.72" stroke="#fff" stroke-width="5.3" fill="none" stroke-linejoin="round"/>
<path d="M535,424.5 L535,427.25 Q535,430 537.39,431.36 L539.78,432.72" stroke="#f00" stroke-width="1" fill="none" stroke-linejoin="round" transform="translate(0.5,0)"/>
<line x1="538.5" y1="424.5" x2="531.5" y2="424.5" stroke="#000" stroke-width="0.8"/>
<line x1="538.05" y1="435.76" x2="541.51" y2="429.67" stroke="#000" stroke-width="0.8"/>
<path d="M523.4,358 L523.4,361.2 A11.6,5 0 0 0 546.6,361.2 L546.6,358 Z" fill="#fff" stroke="#000" stroke-width="0.9"/>
<ellipse cx="535" cy="358" rx="11.6" ry="5" stroke="#000" stroke-width="0.9" fill="#fff" />
<path d="M523.4,362 L523.4,365.2 A11.6,5 0 0 0 546.6,365.2 L546.6,362 Z" fill="#fff" stroke="#000" stroke-width="0.9"/>
<ellipse cx="535" cy="362" rx="11.6" ry="5" stroke="#000" stroke-width="0.9" fill="#fff" />
<path d="M523.4,366 L523.4,369.2 A11.6,5 0 0 0 546.6,369.2 L546.6,366 Z" fill="#fff" stroke="#000" stroke-width="0.9"/>
<ellipse cx="535" cy="366" rx="11.6" ry="5" stroke="#000" stroke-width="0.9" fill="#fff" />
<path d="M523.4,370 L523.4,373.2 A11.6,5 0 0 0 546.6,373.2 L546.6,370 Z" fill="#fff" stroke="#000" stroke-width="0.9"/>
<ellipse cx="535" cy="370" rx="11.6" ry="5" stroke="#000" stroke-width="0.9" fill="#fff" />
<ellipse cx="512.42" cy="337.8" rx="5" ry="11.4" stroke="#000" stroke-width="0.85" fill="#fff" transform="rotate(30 512.42 337.8)" />
<ellipse cx="514.5" cy="339" rx="5" ry="11.4" stroke="#000" stroke-width="0.85" fill="#fff" transform="rotate(30 514.5 339)" />
<ellipse cx="516.58" cy="340.2" rx="5" ry="11.4" stroke="#000" stroke-width="0.85" fill="#fff" transform="rotate(30 516.58 340.2)" />
<ellipse cx="518.66" cy="341.4" rx="5" ry="11.4" stroke="#000" stroke-width="0.85" fill="#fff" transform="rotate(30 518.66 341.4)" />
<ellipse cx="512.42" cy="337.8" rx="2.4" ry="5" stroke="#000" stroke-width="0.8" fill="#fff" transform="rotate(30 512.42 337.8)" />
<polygon points="510.9,345.24 544.7,360.24 551.9,347.76 518.1,332.76" stroke="#000" stroke-width="0.9" fill="#fff" />
<path d="M523.4,337.5 L523.4,341.3 A11.6,5 0 0 0 546.6,341.3 L546.6,337.5 Z" fill="#fff" stroke="#000" stroke-width="0.9"/>
<ellipse cx="535" cy="337.5" rx="11.6" ry="5" stroke="#000" stroke-width="0.9" fill="#fff" />
<path d="M523.4,333 L523.4,336.8 A11.6,5 0 0 0 546.6,336.8 L546.6,333 Z" fill="#fff" stroke="#000" stroke-width="0.9"/>
<ellipse cx="535" cy="333" rx="11.6" ry="5" stroke="#000" stroke-width="0.9" fill="#fff" />
<ellipse cx="535" cy="333" rx="4.2" ry="2.1" stroke="#000" stroke-width="0.9" fill="#fff" />
<ellipse cx="548.3" cy="354" rx="4" ry="7.2" stroke="#000" stroke-width="1.0" fill="#fff" transform="rotate(30 548.3 354)" />
<ellipse cx="548.7" cy="354.2" rx="2.6" ry="5.4" stroke="#000" stroke-width="0.8" fill="#f2f2f2" transform="rotate(30 548.7 354.2)" />
<line x1="535.5" y1="360" x2="535.5" y2="376" stroke="#f00" stroke-width="1" />
<line x1="520" y1="349.6" x2="520" y2="378.2" stroke="#666" stroke-width="2.0" />
<line x1="550.2" y1="311" x2="550.2" y2="342.5" stroke="#666" stroke-width="2.0" />
<path d="M486.6,385.5 L486.6,389.7 A11.4,5 0 0 0 509.4,389.7 L509.4,385.5 Z" fill="#fff" stroke="#000" stroke-width="0.9"/>
<ellipse cx="498" cy="385.5" rx="11.4" ry="5" stroke="#000" stroke-width="0.9" fill="#fff" />
<path d="M486.6,390 L486.6,394.2 A11.4,5 0 0 0 509.4,394.2 L509.4,390 Z" fill="#fff" stroke="#000" stroke-width="0.9"/>
<ellipse cx="498" cy="390" rx="11.4" ry="5" stroke="#000" stroke-width="0.9" fill="#fff" />
<ellipse cx="498" cy="376.5" rx="11.17" ry="11.5" stroke="#000" stroke-width="0.9" fill="#fff" />
<path d="M486.6,363 L486.6,367 A11.4,5 0 0 0 509.4,367 L509.4,363 Z" fill="#fff" stroke="#000" stroke-width="0.9"/>
<ellipse cx="498" cy="363" rx="11.4" ry="5" stroke="#000" stroke-width="0.9" fill="#fff" />
<path d="M486.6,358.5 L486.6,362.5 A11.4,5 0 0 0 509.4,362.5 L509.4,358.5 Z" fill="#fff" stroke="#000" stroke-width="0.9"/>
<ellipse cx="498" cy="358.5" rx="11.4" ry="5" stroke="#000" stroke-width="0.9" fill="#fff" />
<ellipse cx="498" cy="358.5" rx="4.2" ry="2.1" stroke="#000" stroke-width="0.9" fill="#fff" />
<ellipse cx="498" cy="358.5" rx="2.4" ry="1.2" stroke="#000" stroke-width="0.8" fill="#fff" />
<line x1="498.5" y1="361.5" x2="498.5" y2="392.5" stroke="#f00" stroke-width="1" />
<line x1="479" y1="352.6" x2="529.6" y2="324.2" stroke="#111" stroke-width="0.85" />
<line x1="479.6" y1="355.4" x2="530.2" y2="327" stroke="#111" stroke-width="0.85" />
<path d="M516,401 L516,432" stroke="#1a1a1a" stroke-width="6.0" fill="none" stroke-linejoin="round" stroke-linecap="butt"/>
<path d="M516,401 L516,432" stroke="#fff" stroke-width="4.3" fill="none" stroke-linejoin="round" stroke-linecap="butt"/>
<path d="M516,401 L516,432" stroke="#f00" stroke-width="1" fill="none" stroke-dasharray="none" stroke-linejoin="round" transform="translate(0.5,0)"/>
<path d="M513,432 A3,2.2 0 0 0 519,432" fill="#fff" stroke="#000" stroke-width="1"/>
<line x1="479" y1="353" x2="479" y2="490" stroke="#666" stroke-width="0.9" />
<line x1="482.4" y1="353" x2="482.4" y2="490" stroke="#666" stroke-width="0.9" />
<line x1="476" y1="349" x2="485" y2="356" stroke="#888" stroke-width="0.8" />
<line x1="485" y1="349" x2="476" y2="356" stroke="#888" stroke-width="0.8" />
<line x1="483.2" y1="367.2" x2="483.2" y2="399.1" stroke="#222" stroke-width="2.0" />
<line x1="483.2" y1="367.8" x2="488" y2="368.8" stroke="#222" stroke-width="1.6" />
<line x1="562.6" y1="430" x2="562.6" y2="520" stroke="#555" stroke-width="0.9" />
<line x1="566.1" y1="430" x2="566.1" y2="520" stroke="#555" stroke-width="0.9" />
<polygon points="558.35,520 564.35,516.8 570.35,520 564.35,523.2" stroke="#555" stroke-width="0.8" fill="#fff" />
<line x1="521" y1="478" x2="521" y2="559" stroke="#555" stroke-width="0.9" />
<line x1="524.6" y1="478" x2="524.6" y2="559" stroke="#555" stroke-width="0.9" />
<polygon points="516.8,559 522.8,555.8 528.8,559 522.8,562.2" stroke="#555" stroke-width="0.8" fill="#fff" />
<line x1="592.5" y1="480" x2="592.5" y2="549" stroke="#555" stroke-width="0.9" />
<line x1="596.3" y1="480" x2="596.3" y2="549" stroke="#555" stroke-width="0.9" />
<polygon points="588.4,549 594.4,545.8 600.4,549 594.4,552.2" stroke="#555" stroke-width="0.8" fill="#fff" />
<line x1="615.8" y1="455" x2="615.8" y2="537" stroke="#555" stroke-width="0.9" />
<line x1="619.2" y1="455" x2="619.2" y2="537" stroke="#555" stroke-width="0.9" />
<polygon points="611.5,537 617.5,533.8 623.5,537 617.5,540.2" stroke="#555" stroke-width="0.8" fill="#fff" />
<polygon points="662.1,316.3 688,329.6 688,378.3 662.1,364.3" stroke="#000" stroke-width="0.9" fill="#fff" />
<polygon points="688,329.6 712.9,317 716,318.3 720.5,335.3 723,365.8 697,378.8 696.3,347.3 689,329.8" stroke="#000" stroke-width="0.9" fill="#fff" />
<polygon points="662.1,316.3 686,301.8 712.9,317 688,329.6" stroke="#000" stroke-width="0.9" fill="#fff" />
<line x1="665" y1="318.3" x2="688" y2="331.3" stroke="#000" stroke-width="0.7" />
<line x1="696.3" y1="347.3" x2="720.5" y2="335.3" stroke="#000" stroke-width="0.9" />
<line x1="696.7" y1="349.8" x2="720.9" y2="337.8" stroke="#000" stroke-width="0.7" />
<line x1="689" y1="330" x2="696.3" y2="347.3" stroke="#000" stroke-width="0.9" />
<polygon points="698,329.3 710,323.3 711.5,333.8 699.5,339.8" stroke="#000" stroke-width="0.8" fill="#fff" />
<polygon points="702,353.3 716,346.3 716,355.3 702,362.3" stroke="#000" stroke-width="0.8" fill="#fff" />
<ellipse cx="704.8" cy="368.6" rx="2.7" ry="2.9" stroke="#000" stroke-width="0.8" fill="#fff" />
<ellipse cx="704" cy="340.8" rx="1" ry="0.8" stroke="#000" stroke-width="0.6" fill="#fff" />
<ellipse cx="709.5" cy="338.3" rx="1" ry="0.8" stroke="#000" stroke-width="0.6" fill="#fff" />
<ellipse cx="696.5" cy="343.3" rx="1" ry="0.8" stroke="#000" stroke-width="0.6" fill="#fff" />
<path d="M692.7,333.8 l2.6,-1 l0.8,8 l-2.6,1 z" fill="#222"/>
<path d="M713.7,321.3 l2.2,-0.8 l0.8,7.5 l-2.2,0.8 z" fill="#222"/>
<path d="M712,362.8 l4.5,-2.4 l0,1.6 l-4.5,2.4 z" fill="#000"/>
<polygon points="685,377.3 725,363.3 726,367.8 686,381.8" stroke="#000" stroke-width="0.8" fill="#fff" />
<line x1="687.5" y1="378" x2="724" y2="365.3" stroke="#000" stroke-width="1.2" />
<polygon points="684.5,375.3 691,378.3 691,383.3 684.5,380.3" stroke="#000" stroke-width="0.8" fill="#fff" />
<polygon points="720.5,361.8 726,363.8 726,368.3 720.5,366.3" stroke="#000" stroke-width="0.8" fill="#fff" />
<line x1="658" y1="341.8" x2="670.5" y2="334.6" stroke="#000" stroke-width="0.8" />
<line x1="673" y1="367.8" x2="687.5" y2="359.4" stroke="#000" stroke-width="0.8" />
<ellipse cx="665.5" cy="354.8" rx="8.7" ry="15" stroke="#000" stroke-width="0.85" fill="#fff" transform="rotate(-30 665.5 354.8)" />
<polygon points="650.1,340.4 656.3,336.8 662.5,340.4 656.3,344" stroke="#000" stroke-width="0.8" fill="#fff" />
<polygon points="650.1,340.4 656.3,344 656.3,351.3 650.1,347.8" stroke="#000" stroke-width="0.8" fill="#fff" />
<path d="M661,337 L661,328.5 Q661,324.5 664.48,326.47 L680.52,335.53 Q684,337.5 680.59,339.59 L669.41,346.41 Q666,348.5 666,352.5 L666,379 Q666,383 662.53,384.98 L652,391" stroke="#1a1a1a" stroke-width="6.0" fill="none" stroke-linejoin="round" stroke-linecap="butt"/>
<path d="M661,337 L661,328.5 Q661,324.5 664.48,326.47 L680.52,335.53 Q684,337.5 680.59,339.59 L669.41,346.41 Q666,348.5 666,352.5 L666,379 Q666,383 662.53,384.98 L652,391" stroke="#fff" stroke-width="4.3" fill="none" stroke-linejoin="round" stroke-linecap="butt"/>
<path d="M661,337 L661,328.5 Q661,324.5 664.48,326.47 L680.52,335.53 Q684,337.5 680.59,339.59 L669.41,346.41 Q666,348.5 666,352.5 L666,379 Q666,383 662.53,384.98 L652,391" stroke="#f00" stroke-width="1" fill="none" stroke-dasharray="70 3 9 3" stroke-linejoin="round" transform="translate(0.5,0)"/>
<path d="M661,330 L661,327.25 Q661,324.5 663.39,325.85 L665.79,327.21" stroke="#1a1a1a" stroke-width="7.0" fill="none" stroke-linejoin="round"/>
<path d="M661,330 L661,327.25 Q661,324.5 663.39,325.85 L665.79,327.21" stroke="#fff" stroke-width="5.3" fill="none" stroke-linejoin="round"/>
<path d="M661,330 L661,327.25 Q661,324.5 663.39,325.85 L665.79,327.21" stroke="#f00" stroke-width="1" fill="none" stroke-linejoin="round" transform="translate(0.5,0)"/>
<path d="M679.21,334.79 L681.61,336.15 Q684,337.5 681.65,338.93 L679.31,340.37" stroke="#1a1a1a" stroke-width="7.0" fill="none" stroke-linejoin="round"/>
<path d="M679.21,334.79 L681.61,336.15 Q684,337.5 681.65,338.93 L679.31,340.37" stroke="#fff" stroke-width="5.3" fill="none" stroke-linejoin="round"/>
<path d="M679.21,334.79 L681.61,336.15 Q684,337.5 681.65,338.93 L679.31,340.37" stroke="#f00" stroke-width="1" fill="none" stroke-linejoin="round" transform="translate(0.5,0)"/>
<path d="M670.69,345.63 L668.35,347.07 Q666,348.5 666,351.25 L666,354" stroke="#1a1a1a" stroke-width="7.0" fill="none" stroke-linejoin="round"/>
<path d="M670.69,345.63 L668.35,347.07 Q666,348.5 666,351.25 L666,354" stroke="#fff" stroke-width="5.3" fill="none" stroke-linejoin="round"/>
<path d="M670.69,345.63 L668.35,347.07 Q666,348.5 666,351.25 L666,354" stroke="#f00" stroke-width="1" fill="none" stroke-linejoin="round" transform="translate(0.5,0)"/>
<path d="M666,377.5 L666,380.25 Q666,383 663.61,384.36 L661.22,385.73" stroke="#1a1a1a" stroke-width="7.0" fill="none" stroke-linejoin="round"/>
<path d="M666,377.5 L666,380.25 Q666,383 663.61,384.36 L661.22,385.73" stroke="#fff" stroke-width="5.3" fill="none" stroke-linejoin="round"/>
<path d="M666,377.5 L666,380.25 Q666,383 663.61,384.36 L661.22,385.73" stroke="#f00" stroke-width="1" fill="none" stroke-linejoin="round" transform="translate(0.5,0)"/>
<line x1="657.5" y1="330" x2="664.5" y2="330" stroke="#000" stroke-width="0.8"/>
<line x1="664.07" y1="330.25" x2="667.51" y2="324.16" stroke="#000" stroke-width="0.8"/>
<line x1="680.93" y1="331.75" x2="677.49" y2="337.84" stroke="#000" stroke-width="0.8"/>
<line x1="677.48" y1="337.38" x2="681.13" y2="343.35" stroke="#000" stroke-width="0.8"/>
<line x1="672.52" y1="348.62" x2="668.87" y2="342.65" stroke="#000" stroke-width="0.8"/>
<line x1="662.5" y1="354" x2="669.5" y2="354" stroke="#000" stroke-width="0.8"/>
<line x1="669.5" y1="377.5" x2="662.5" y2="377.5" stroke="#000" stroke-width="0.8"/>
<line x1="659.49" y1="382.69" x2="662.96" y2="388.77" stroke="#000" stroke-width="0.8"/>
<path d="M670,371.6 L712.92,396.02 Q716.4,398 712.98,400.08 L668.92,426.92 Q665.5,429 662.03,430.98 L655,435" stroke="#1a1a1a" stroke-width="6.0" fill="none" stroke-linejoin="round" stroke-linecap="butt"/>
<path d="M670,371.6 L712.92,396.02 Q716.4,398 712.98,400.08 L668.92,426.92 Q665.5,429 662.03,430.98 L655,435" stroke="#fff" stroke-width="4.3" fill="none" stroke-linejoin="round" stroke-linecap="butt"/>
<path d="M670,371.6 L712.92,396.02 Q716.4,398 712.98,400.08 L668.92,426.92 Q665.5,429 662.03,430.98 L655,435" stroke="#f00" stroke-width="1" fill="none" stroke-dasharray="70 3 9 3" stroke-linejoin="round" transform="translate(0.5,0)"/>
<path d="M711.62,395.28 L714.01,396.64 Q716.4,398 714.05,399.43 L711.7,400.86" stroke="#1a1a1a" stroke-width="7.0" fill="none" stroke-linejoin="round"/>
<path d="M711.62,395.28 L714.01,396.64 Q716.4,398 714.05,399.43 L711.7,400.86" stroke="#fff" stroke-width="5.3" fill="none" stroke-linejoin="round"/>
<path d="M711.62,395.28 L714.01,396.64 Q716.4,398 714.05,399.43 L711.7,400.86" stroke="#f00" stroke-width="1" fill="none" stroke-linejoin="round" transform="translate(0.5,0)"/>
<path d="M670.2,426.14 L667.85,427.57 Q665.5,429 663.11,430.36 L660.72,431.73" stroke="#1a1a1a" stroke-width="7.0" fill="none" stroke-linejoin="round"/>
<path d="M670.2,426.14 L667.85,427.57 Q665.5,429 663.11,430.36 L660.72,431.73" stroke="#fff" stroke-width="5.3" fill="none" stroke-linejoin="round"/>
<path d="M670.2,426.14 L667.85,427.57 Q665.5,429 663.11,430.36 L660.72,431.73" stroke="#f00" stroke-width="1" fill="none" stroke-linejoin="round" transform="translate(0.5,0)"/>
<line x1="713.35" y1="392.24" x2="709.89" y2="398.32" stroke="#000" stroke-width="0.8"/>
<line x1="709.88" y1="397.87" x2="713.52" y2="403.85" stroke="#000" stroke-width="0.8"/>
<line x1="672.02" y1="429.13" x2="668.38" y2="423.15" stroke="#000" stroke-width="0.8"/>
<line x1="658.99" y1="428.69" x2="662.46" y2="434.77" stroke="#000" stroke-width="0.8"/>
<path d="M566.5,438 L606,461" stroke="#1a1a1a" stroke-width="6.0" fill="none" stroke-linejoin="round" stroke-linecap="butt"/>
<path d="M566.5,438 L606,461" stroke="#fff" stroke-width="4.3" fill="none" stroke-linejoin="round" stroke-linecap="butt"/>
<path d="M566.5,438 L606,461" stroke="#f00" stroke-width="1" fill="none" stroke-dasharray="70 3 9 3" stroke-linejoin="round" transform="translate(0.5,0)"/>
<path d="M575,411.6 L589.82,420.02 Q593.3,422 596.76,420 L622,405.4" stroke="#1a1a1a" stroke-width="6.0" fill="none" stroke-linejoin="round" stroke-linecap="butt"/>
<path d="M575,411.6 L589.82,420.02 Q593.3,422 596.76,420 L622,405.4" stroke="#fff" stroke-width="4.3" fill="none" stroke-linejoin="round" stroke-linecap="butt"/>
<path d="M575,411.6 L589.82,420.02 Q593.3,422 596.76,420 L622,405.4" stroke="#f00" stroke-width="1" fill="none" stroke-dasharray="70 3 9 3" stroke-linejoin="round" transform="translate(0.5,0)"/>
<path d="M588.52,419.28 L590.91,420.64 Q593.3,422 595.68,420.62 L598.06,419.25" stroke="#1a1a1a" stroke-width="7.0" fill="none" stroke-linejoin="round"/>
<path d="M588.52,419.28 L590.91,420.64 Q593.3,422 595.68,420.62 L598.06,419.25" stroke="#fff" stroke-width="5.3" fill="none" stroke-linejoin="round"/>
<path d="M588.52,419.28 L590.91,420.64 Q593.3,422 595.68,420.62 L598.06,419.25" stroke="#f00" stroke-width="1" fill="none" stroke-linejoin="round" transform="translate(0.5,0)"/>
<line x1="590.25" y1="416.24" x2="586.79" y2="422.33" stroke="#000" stroke-width="0.8"/>
<line x1="599.81" y1="422.28" x2="596.31" y2="416.22" stroke="#000" stroke-width="0.8"/>
<path d="M557.1,428.0 L557.1,431.5 A11.4,6 0 0 0 579.9,431.5 L579.9,428.0 Z" fill="#fff" stroke="#000" stroke-width="0.9"/>
<ellipse cx="568.5" cy="428" rx="11.4" ry="6" stroke="#000" stroke-width="0.9" fill="#fff" />
<line x1="562.4" y1="419" x2="562.4" y2="428" stroke="#000" stroke-width="1.0" />
<line x1="574.6" y1="419" x2="574.6" y2="428" stroke="#000" stroke-width="1.0" />
<path d="M562.4,428.0 A6.1,3.2 0 0 0 574.6,428.0" fill="none" stroke="#000" stroke-width="0.8"/>
<line x1="585.5" y1="415.5" x2="594" y2="410.6" stroke="#333" stroke-width="0.9" />
<line x1="587.5" y1="418.5" x2="596" y2="413.6" stroke="#333" stroke-width="0.9" />
<ellipse cx="655.26" cy="387.95" rx="7.6" ry="12.3" stroke="#000" stroke-width="0.85" fill="#fff" transform="rotate(-30 655.26 387.95)" />
<ellipse cx="653.36" cy="389.05" rx="7.6" ry="12.3" stroke="#000" stroke-width="0.85" fill="#fff" transform="rotate(-30 653.36 389.05)" />
<ellipse cx="651.45" cy="390.15" rx="7.6" ry="12.3" stroke="#000" stroke-width="0.85" fill="#fff" transform="rotate(-30 651.45 390.15)" />
<ellipse cx="637.73" cy="398.07" rx="11.41" ry="11.07" stroke="#000" stroke-width="0.85" fill="#fff" transform="rotate(-30 637.73 398.07)" />
<ellipse cx="627.81" cy="403.8" rx="7.6" ry="12.3" stroke="#000" stroke-width="0.85" fill="#fff" transform="rotate(-30 627.81 403.8)" />
<ellipse cx="625.91" cy="404.9" rx="7.6" ry="12.3" stroke="#000" stroke-width="0.85" fill="#fff" transform="rotate(-30 625.91 404.9)" />
<ellipse cx="624" cy="406" rx="7.6" ry="12.3" stroke="#000" stroke-width="0.85" fill="#fff" transform="rotate(-30 624 406)" />
<ellipse cx="624" cy="406" rx="3.19" ry="3.69" stroke="#000" stroke-width="0.9" fill="#fff" transform="rotate(-30 624 406)" />
<ellipse cx="624" cy="406" rx="1.82" ry="2.09" stroke="#000" stroke-width="0.8" fill="#fff" transform="rotate(-30 624 406)" />
<line x1="629.2" y1="403" x2="650.59" y2="390.65" stroke="#f00" stroke-width="1" />
<line x1="610.4" y1="396.3" x2="639.1" y2="380.4" stroke="#333" stroke-width="2.0" />
<line x1="639.1" y1="380.4" x2="639.1" y2="388.3" stroke="#111" stroke-width="2.0" />
<path d="M590,471 L628,449" stroke="#1a1a1a" stroke-width="6.0" fill="none" stroke-linejoin="round" stroke-linecap="butt"/>
<path d="M590,471 L628,449" stroke="#fff" stroke-width="4.3" fill="none" stroke-linejoin="round" stroke-linecap="butt"/>
<path d="M590,471 L628,449" stroke="#f00" stroke-width="1" fill="none" stroke-dasharray="70 3 9 3" stroke-linejoin="round" transform="translate(0.5,0)"/>
<ellipse cx="657.56" cy="431.65" rx="7.6" ry="12.3" stroke="#000" stroke-width="0.85" fill="#fff" transform="rotate(-30 657.56 431.65)" />
<ellipse cx="655.66" cy="432.75" rx="7.6" ry="12.3" stroke="#000" stroke-width="0.85" fill="#fff" transform="rotate(-30 655.66 432.75)" />
<ellipse cx="653.75" cy="433.85" rx="7.6" ry="12.3" stroke="#000" stroke-width="0.85" fill="#fff" transform="rotate(-30 653.75 433.85)" />
<ellipse cx="640.03" cy="441.77" rx="11.41" ry="11.07" stroke="#000" stroke-width="0.85" fill="#fff" transform="rotate(-30 640.03 441.77)" />
<ellipse cx="630.11" cy="447.5" rx="7.6" ry="12.3" stroke="#000" stroke-width="0.85" fill="#fff" transform="rotate(-30 630.11 447.5)" />
<ellipse cx="628.21" cy="448.6" rx="7.6" ry="12.3" stroke="#000" stroke-width="0.85" fill="#fff" transform="rotate(-30 628.21 448.6)" />
<ellipse cx="626.3" cy="449.7" rx="7.6" ry="12.3" stroke="#000" stroke-width="0.85" fill="#fff" transform="rotate(-30 626.3 449.7)" />
<ellipse cx="626.3" cy="449.7" rx="3.19" ry="3.69" stroke="#000" stroke-width="0.9" fill="#fff" transform="rotate(-30 626.3 449.7)" />
<ellipse cx="626.3" cy="449.7" rx="1.82" ry="2.09" stroke="#000" stroke-width="0.8" fill="#fff" transform="rotate(-30 626.3 449.7)" />
<line x1="631.5" y1="446.7" x2="652.89" y2="434.35" stroke="#f00" stroke-width="1" />
<line x1="643.1" y1="425" x2="671" y2="408.3" stroke="#333" stroke-width="2.0" />
<line x1="643.1" y1="425" x2="643.1" y2="432.2" stroke="#111" stroke-width="2.0" />
<path d="M669,429 L669,500.5" stroke="#1a1a1a" stroke-width="6.0" fill="none" stroke-linejoin="round" stroke-linecap="butt"/>
<path d="M669,429 L669,500.5" stroke="#fff" stroke-width="4.3" fill="none" stroke-linejoin="round" stroke-linecap="butt"/>
<path d="M669,429 L669,500.5" stroke="#f00" stroke-width="1" fill="none" stroke-dasharray="70 3 9 3" stroke-linejoin="round" transform="translate(0.5,0)"/>
<path d="M657.6,470.8 L657.6,475 A11.4,5 0 0 0 680.4,475 L680.4,470.8 Z" fill="#fff" stroke="#000" stroke-width="0.9"/>
<ellipse cx="669" cy="470.8" rx="11.4" ry="5" stroke="#000" stroke-width="0.9" fill="#fff" />
<path d="M657.6,475.3 L657.6,479.5 A11.4,5 0 0 0 680.4,479.5 L680.4,475.3 Z" fill="#fff" stroke="#000" stroke-width="0.9"/>
<ellipse cx="669" cy="475.3" rx="11.4" ry="5" stroke="#000" stroke-width="0.9" fill="#fff" />
<ellipse cx="669" cy="463.3" rx="11.17" ry="10.75" stroke="#000" stroke-width="0.9" fill="#fff" />
<path d="M657.6,451.3 L657.6,455.3 A11.4,5 0 0 0 680.4,455.3 L680.4,451.3 Z" fill="#fff" stroke="#000" stroke-width="0.9"/>
<ellipse cx="669" cy="451.3" rx="11.4" ry="5" stroke="#000" stroke-width="0.9" fill="#fff" />
<path d="M657.6,446.8 L657.6,450.8 A11.4,5 0 0 0 680.4,450.8 L680.4,446.8 Z" fill="#fff" stroke="#000" stroke-width="0.9"/>
<ellipse cx="669" cy="446.8" rx="11.4" ry="5" stroke="#000" stroke-width="0.9" fill="#fff" />
<ellipse cx="669" cy="446.8" rx="4.2" ry="2.1" stroke="#000" stroke-width="0.9" fill="#fff" />
<ellipse cx="669" cy="446.8" rx="2.4" ry="1.2" stroke="#000" stroke-width="0.8" fill="#fff" />
<line x1="669.5" y1="449.8" x2="669.5" y2="477.8" stroke="#f00" stroke-width="1" />
<line x1="683.5" y1="452.6" x2="683.5" y2="485.7" stroke="#222" stroke-width="2.0" />
<path d="M784.8,397.2 L770.46,405.5 Q767,407.5 767,411.5 L767,440 Q767,444 763.53,445.98 L551.47,567.12 Q548,569.1 548,565.1 L548,552" stroke="#1a1a1a" stroke-width="6.0" fill="none" stroke-linejoin="round" stroke-linecap="butt"/>
<path d="M784.8,397.2 L770.46,405.5 Q767,407.5 767,411.5 L767,440 Q767,444 763.53,445.98 L551.47,567.12 Q548,569.1 548,565.1 L548,552" stroke="#fff" stroke-width="4.3" fill="none" stroke-linejoin="round" stroke-linecap="butt"/>
<path d="M784.8,397.2 L770.46,405.5 Q767,407.5 767,411.5 L767,440 Q767,444 763.53,445.98 L551.47,567.12 Q548,569.1 548,565.1 L548,552" stroke="#f00" stroke-width="1" fill="none" stroke-dasharray="70 3 9 3" stroke-linejoin="round" transform="translate(0.5,0)"/>
<path d="M771.76,404.75 L769.38,406.12 Q767,407.5 767,410.25 L767,413" stroke="#1a1a1a" stroke-width="7.0" fill="none" stroke-linejoin="round"/>
<path d="M771.76,404.75 L769.38,406.12 Q767,407.5 767,410.25 L767,413" stroke="#fff" stroke-width="5.3" fill="none" stroke-linejoin="round"/>
<path d="M771.76,404.75 L769.38,406.12 Q767,407.5 767,410.25 L767,413" stroke="#f00" stroke-width="1" fill="none" stroke-linejoin="round" transform="translate(0.5,0)"/>
<path d="M767,438.5 L767,441.25 Q767,444 764.61,445.36 L762.22,446.73" stroke="#1a1a1a" stroke-width="7.0" fill="none" stroke-linejoin="round"/>
<path d="M767,438.5 L767,441.25 Q767,444 764.61,445.36 L762.22,446.73" stroke="#fff" stroke-width="5.3" fill="none" stroke-linejoin="round"/>
<path d="M767,438.5 L767,441.25 Q767,444 764.61,445.36 L762.22,446.73" stroke="#f00" stroke-width="1" fill="none" stroke-linejoin="round" transform="translate(0.5,0)"/>
<path d="M552.78,566.37 L550.39,567.74 Q548,569.1 548,566.35 L548,563.6" stroke="#1a1a1a" stroke-width="7.0" fill="none" stroke-linejoin="round"/>
<path d="M552.78,566.37 L550.39,567.74 Q548,569.1 548,566.35 L548,563.6" stroke="#fff" stroke-width="5.3" fill="none" stroke-linejoin="round"/>
<path d="M552.78,566.37 L550.39,567.74 Q548,569.1 548,566.35 L548,563.6" stroke="#f00" stroke-width="1" fill="none" stroke-linejoin="round" transform="translate(0.5,0)"/>
<line x1="773.51" y1="407.77" x2="770.01" y2="401.72" stroke="#000" stroke-width="0.8"/>
<line x1="763.5" y1="413" x2="770.5" y2="413" stroke="#000" stroke-width="0.8"/>
<line x1="770.5" y1="438.5" x2="763.5" y2="438.5" stroke="#000" stroke-width="0.8"/>
<line x1="760.49" y1="443.69" x2="763.96" y2="449.77" stroke="#000" stroke-width="0.8"/>
<line x1="554.51" y1="569.41" x2="551.04" y2="563.33" stroke="#000" stroke-width="0.8"/>
<line x1="551.5" y1="563.6" x2="544.5" y2="563.6" stroke="#000" stroke-width="0.8"/>
<polygon points="573.1,558.8 579.1,555.4 585.1,558.8 579.1,562.2" stroke="#555" stroke-width="0.7" fill="#fff" />
<polygon points="576.9,557.8 577.9,548.8 580.3,548.8 581.3,557.8" stroke="#555" stroke-width="0.7" fill="#fff" />
<polygon points="639.2,520.6 645.2,517.2 651.2,520.6 645.2,524" stroke="#555" stroke-width="0.7" fill="#fff" />
<polygon points="643,519.6 644,510.6 646.4,510.6 647.4,519.6" stroke="#555" stroke-width="0.7" fill="#fff" />
<polygon points="372.5,511.7 443.8,471.2 513.3,511.2 442,551.7" stroke="#111" stroke-width="0.85" fill="#fff" />
<polygon points="372.5,511.7 442,551.7 442,626.2 372.5,586.2" stroke="#111" stroke-width="0.85" fill="#fff" />
<polygon points="442,551.7 513.3,511.2 513.3,585.7 442,626.2" stroke="#111" stroke-width="0.85" fill="#fff" />
<path d="M414,481.7 L414,462.3 Q414,458.3 417.5,456.37 L450,438.43 Q453.5,436.5 453.5,440.5 L453.5,452" stroke="#1a1a1a" stroke-width="6.0" fill="none" stroke-linejoin="round" stroke-linecap="butt"/>
<path d="M414,481.7 L414,462.3 Q414,458.3 417.5,456.37 L450,438.43 Q453.5,436.5 453.5,440.5 L453.5,452" stroke="#fff" stroke-width="4.3" fill="none" stroke-linejoin="round" stroke-linecap="butt"/>
<path d="M414,481.7 L414,462.3 Q414,458.3 417.5,456.37 L450,438.43 Q453.5,436.5 453.5,440.5 L453.5,452" stroke="#f00" stroke-width="1" fill="none" stroke-dasharray="70 3 9 3" stroke-linejoin="round" transform="translate(0.5,0)"/>
<path d="M414,463.8 L414,461.05 Q414,458.3 416.41,456.97 L418.82,455.64" stroke="#1a1a1a" stroke-width="7.0" fill="none" stroke-linejoin="round"/>
<path d="M414,463.8 L414,461.05 Q414,458.3 416.41,456.97 L418.82,455.64" stroke="#fff" stroke-width="5.3" fill="none" stroke-linejoin="round"/>
<path d="M414,463.8 L414,461.05 Q414,458.3 416.41,456.97 L418.82,455.64" stroke="#f00" stroke-width="1" fill="none" stroke-linejoin="round" transform="translate(0.5,0)"/>
<path d="M448.68,439.16 L451.09,437.83 Q453.5,436.5 453.5,439.25 L453.5,442" stroke="#1a1a1a" stroke-width="7.0" fill="none" stroke-linejoin="round"/>
<path d="M448.68,439.16 L451.09,437.83 Q453.5,436.5 453.5,439.25 L453.5,442" stroke="#fff" stroke-width="5.3" fill="none" stroke-linejoin="round"/>
<path d="M448.68,439.16 L451.09,437.83 Q453.5,436.5 453.5,439.25 L453.5,442" stroke="#f00" stroke-width="1" fill="none" stroke-linejoin="round" transform="translate(0.5,0)"/>
<line x1="410.5" y1="463.8" x2="417.5" y2="463.8" stroke="#000" stroke-width="0.8"/>
<line x1="420.51" y1="458.71" x2="417.12" y2="452.58" stroke="#000" stroke-width="0.8"/>
<line x1="446.99" y1="436.09" x2="450.38" y2="442.22" stroke="#000" stroke-width="0.8"/>
<line x1="450" y1="442" x2="457" y2="442" stroke="#000" stroke-width="0.8"/>
<path d="M405.5,495 L403.26,498.07 Q401.5,500.5 404.1,502.01 L416.5,509.2" stroke="#1a1a1a" stroke-width="6.0" fill="none" stroke-linejoin="round" stroke-linecap="butt"/>
<path d="M405.5,495 L403.26,498.07 Q401.5,500.5 404.1,502.01 L416.5,509.2" stroke="#fff" stroke-width="4.3" fill="none" stroke-linejoin="round" stroke-linecap="butt"/>
<path d="M405.5,495 L403.26,498.07 Q401.5,500.5 404.1,502.01 L416.5,509.2" stroke="#f00" stroke-width="1" fill="none" stroke-dasharray="70 3 9 3" stroke-linejoin="round" transform="translate(0.5,0)"/>
<path d="M404.73,496.05 L403.12,498.28 Q401.5,500.5 403.88,501.88 L406.26,503.26" stroke="#1a1a1a" stroke-width="7.0" fill="none" stroke-linejoin="round"/>
<path d="M404.73,496.05 L403.12,498.28 Q401.5,500.5 403.88,501.88 L406.26,503.26" stroke="#fff" stroke-width="5.3" fill="none" stroke-linejoin="round"/>
<path d="M404.73,496.05 L403.12,498.28 Q401.5,500.5 403.88,501.88 L406.26,503.26" stroke="#f00" stroke-width="1" fill="none" stroke-linejoin="round" transform="translate(0.5,0)"/>
<line x1="407.57" y1="498.11" x2="401.9" y2="493.99" stroke="#000" stroke-width="0.8"/>
<line x1="404.5" y1="506.29" x2="408.01" y2="500.23" stroke="#000" stroke-width="0.8"/>
<polygon points="417.6,461.5 443.5,474.8 443.5,523.5 417.6,509.5" stroke="#000" stroke-width="0.9" fill="#fff" />
<polygon points="443.5,474.8 468.4,462.2 471.5,463.5 476,480.5 478.5,511 452.5,524 451.8,492.5 444.5,475" stroke="#000" stroke-width="0.9" fill="#fff" />
<polygon points="417.6,461.5 441.5,447 468.4,462.2 443.5,474.8" stroke="#000" stroke-width="0.9" fill="#fff" />
<line x1="420.5" y1="463.5" x2="443.5" y2="476.5" stroke="#000" stroke-width="0.7" />
<line x1="451.8" y1="492.5" x2="476" y2="480.5" stroke="#000" stroke-width="0.9" />
<line x1="452.2" y1="495" x2="476.4" y2="483" stroke="#000" stroke-width="0.7" />
<line x1="444.5" y1="475.2" x2="451.8" y2="492.5" stroke="#000" stroke-width="0.9" />
<polygon points="453.5,474.5 465.5,468.5 467,479 455,485" stroke="#000" stroke-width="0.8" fill="#fff" />
<polygon points="457.5,498.5 471.5,491.5 471.5,500.5 457.5,507.5" stroke="#000" stroke-width="0.8" fill="#fff" />
<ellipse cx="460.3" cy="513.8" rx="2.7" ry="2.9" stroke="#000" stroke-width="0.8" fill="#fff" />
<ellipse cx="459.5" cy="486" rx="1" ry="0.8" stroke="#000" stroke-width="0.6" fill="#fff" />
<ellipse cx="465" cy="483.5" rx="1" ry="0.8" stroke="#000" stroke-width="0.6" fill="#fff" />
<ellipse cx="452" cy="488.5" rx="1" ry="0.8" stroke="#000" stroke-width="0.6" fill="#fff" />
<path d="M448.2,479 l2.6,-1 l0.8,8 l-2.6,1 z" fill="#222"/>
<path d="M469.2,466.5 l2.2,-0.8 l0.8,7.5 l-2.2,0.8 z" fill="#222"/>
<path d="M467.5,508 l4.5,-2.4 l0,1.6 l-4.5,2.4 z" fill="#000"/>
<polygon points="440.5,522.5 480.5,508.5 481.5,513 441.5,527" stroke="#000" stroke-width="0.8" fill="#fff" />
<line x1="443" y1="523.2" x2="479.5" y2="510.5" stroke="#000" stroke-width="1.2" />
<polygon points="440,520.5 446.5,523.5 446.5,528.5 440,525.5" stroke="#000" stroke-width="0.8" fill="#fff" />
<polygon points="476,507 481.5,509 481.5,513.5 476,511.5" stroke="#000" stroke-width="0.8" fill="#fff" />
<line x1="413.5" y1="487" x2="426" y2="479.8" stroke="#000" stroke-width="0.8" />
<line x1="428.5" y1="513" x2="443" y2="504.6" stroke="#000" stroke-width="0.8" />
<ellipse cx="421" cy="500" rx="8.7" ry="15" stroke="#000" stroke-width="0.85" fill="#fff" transform="rotate(-30 421 500)" />
<polygon points="405.6,485.6 411.8,482 418,485.6 411.8,489.2" stroke="#000" stroke-width="0.8" fill="#fff" />
<polygon points="405.6,485.6 411.8,489.2 411.8,496.5 405.6,493" stroke="#000" stroke-width="0.8" fill="#fff" />
<path d="M475.5,474.5 L487.02,481.03 Q490.5,483 493.98,481.03 L510,472" stroke="#1a1a1a" stroke-width="6.0" fill="none" stroke-linejoin="round" stroke-linecap="butt"/>
<path d="M475.5,474.5 L487.02,481.03 Q490.5,483 493.98,481.03 L510,472" stroke="#fff" stroke-width="4.3" fill="none" stroke-linejoin="round" stroke-linecap="butt"/>
<path d="M475.5,474.5 L487.02,481.03 Q490.5,483 493.98,481.03 L510,472" stroke="#f00" stroke-width="1" fill="none" stroke-dasharray="70 3 9 3" stroke-linejoin="round" transform="translate(0.5,0)"/>
<path d="M485.71,480.29 L488.11,481.64 Q490.5,483 492.9,481.65 L495.29,480.3" stroke="#1a1a1a" stroke-width="7.0" fill="none" stroke-linejoin="round"/>
<path d="M485.71,480.29 L488.11,481.64 Q490.5,483 492.9,481.65 L495.29,480.3" stroke="#fff" stroke-width="5.3" fill="none" stroke-linejoin="round"/>
<path d="M485.71,480.29 L488.11,481.64 Q490.5,483 492.9,481.65 L495.29,480.3" stroke="#f00" stroke-width="1" fill="none" stroke-linejoin="round" transform="translate(0.5,0)"/>
<line x1="487.44" y1="477.24" x2="483.99" y2="483.33" stroke="#000" stroke-width="0.8"/>
<line x1="497.01" y1="483.35" x2="493.57" y2="477.25" stroke="#000" stroke-width="0.8"/>
<path d="M476.5,491 L513.93,509.9 Q517.5,511.7 520.97,509.7 L559.5,487.5" stroke="#1a1a1a" stroke-width="6.0" fill="none" stroke-linejoin="round" stroke-linecap="butt"/>
<path d="M476.5,491 L513.93,509.9 Q517.5,511.7 520.97,509.7 L559.5,487.5" stroke="#fff" stroke-width="4.3" fill="none" stroke-linejoin="round" stroke-linecap="butt"/>
<path d="M476.5,491 L513.93,509.9 Q517.5,511.7 520.97,509.7 L559.5,487.5" stroke="#f00" stroke-width="1" fill="none" stroke-dasharray="70 3 9 3" stroke-linejoin="round" transform="translate(0.5,0)"/>
<path d="M512.59,509.22 L515.05,510.46 Q517.5,511.7 519.88,510.33 L522.27,508.95" stroke="#1a1a1a" stroke-width="7.0" fill="none" stroke-linejoin="round"/>
<path d="M512.59,509.22 L515.05,510.46 Q517.5,511.7 519.88,510.33 L522.27,508.95" stroke="#fff" stroke-width="5.3" fill="none" stroke-linejoin="round"/>
<path d="M512.59,509.22 L515.05,510.46 Q517.5,511.7 519.88,510.33 L522.27,508.95" stroke="#f00" stroke-width="1" fill="none" stroke-linejoin="round" transform="translate(0.5,0)"/>
<line x1="514.17" y1="506.1" x2="511.01" y2="512.35" stroke="#000" stroke-width="0.8"/>
<line x1="524.01" y1="511.99" x2="520.52" y2="505.92" stroke="#000" stroke-width="0.8"/>
<ellipse cx="542.03" cy="454.4" rx="7.6" ry="12.3" stroke="#000" stroke-width="0.85" fill="#fff" transform="rotate(-30 542.03 454.4)" />
<ellipse cx="540.13" cy="455.5" rx="7.6" ry="12.3" stroke="#000" stroke-width="0.85" fill="#fff" transform="rotate(-30 540.13 455.5)" />
<ellipse cx="538.22" cy="456.6" rx="7.6" ry="12.3" stroke="#000" stroke-width="0.85" fill="#fff" transform="rotate(-30 538.22 456.6)" />
<ellipse cx="524.71" cy="464.4" rx="11.23" ry="11.07" stroke="#000" stroke-width="0.85" fill="#fff" transform="rotate(-30 524.71 464.4)" />
<ellipse cx="515.01" cy="470" rx="7.6" ry="12.3" stroke="#000" stroke-width="0.85" fill="#fff" transform="rotate(-30 515.01 470)" />
<ellipse cx="513.11" cy="471.1" rx="7.6" ry="12.3" stroke="#000" stroke-width="0.85" fill="#fff" transform="rotate(-30 513.11 471.1)" />
<ellipse cx="511.2" cy="472.2" rx="7.6" ry="12.3" stroke="#000" stroke-width="0.85" fill="#fff" transform="rotate(-30 511.2 472.2)" />
<ellipse cx="511.2" cy="472.2" rx="3.19" ry="3.69" stroke="#000" stroke-width="0.9" fill="#fff" transform="rotate(-30 511.2 472.2)" />
<ellipse cx="511.2" cy="472.2" rx="1.82" ry="2.09" stroke="#000" stroke-width="0.8" fill="#fff" transform="rotate(-30 511.2 472.2)" />
<line x1="516.4" y1="469.2" x2="537.35" y2="457.1" stroke="#f00" stroke-width="1" />
<line x1="495.2" y1="463.5" x2="524.2" y2="446.8" stroke="#333" stroke-width="2.0" />
<line x1="524.2" y1="446.8" x2="524.2" y2="454" stroke="#111" stroke-width="2.0" />
<path d="M538,456 L553.54,447 Q557,445 553.56,442.97 L535,432" stroke="#1a1a1a" stroke-width="6.0" fill="none" stroke-linejoin="round" stroke-linecap="butt"/>
<path d="M538,456 L553.54,447 Q557,445 553.56,442.97 L535,432" stroke="#fff" stroke-width="4.3" fill="none" stroke-linejoin="round" stroke-linecap="butt"/>
<path d="M538,456 L553.54,447 Q557,445 553.56,442.97 L535,432" stroke="#f00" stroke-width="1" fill="none" stroke-dasharray="70 3 9 3" stroke-linejoin="round" transform="translate(0.5,0)"/>
<ellipse cx="592.26" cy="470.05" rx="7.6" ry="12.3" stroke="#000" stroke-width="0.85" fill="#fff" transform="rotate(-30 592.26 470.05)" />
<ellipse cx="590.36" cy="471.15" rx="7.6" ry="12.3" stroke="#000" stroke-width="0.85" fill="#fff" transform="rotate(-30 590.36 471.15)" />
<ellipse cx="588.45" cy="472.25" rx="7.6" ry="12.3" stroke="#000" stroke-width="0.85" fill="#fff" transform="rotate(-30 588.45 472.25)" />
<ellipse cx="574.73" cy="480.18" rx="11.41" ry="11.07" stroke="#000" stroke-width="0.85" fill="#fff" transform="rotate(-30 574.73 480.18)" />
<ellipse cx="564.81" cy="485.9" rx="7.6" ry="12.3" stroke="#000" stroke-width="0.85" fill="#fff" transform="rotate(-30 564.81 485.9)" />
<ellipse cx="562.91" cy="487" rx="7.6" ry="12.3" stroke="#000" stroke-width="0.85" fill="#fff" transform="rotate(-30 562.91 487)" />
<ellipse cx="561" cy="488.1" rx="7.6" ry="12.3" stroke="#000" stroke-width="0.85" fill="#fff" transform="rotate(-30 561 488.1)" />
<ellipse cx="561" cy="488.1" rx="3.19" ry="3.69" stroke="#000" stroke-width="0.9" fill="#fff" transform="rotate(-30 561 488.1)" />
<ellipse cx="561" cy="488.1" rx="1.82" ry="2.09" stroke="#000" stroke-width="0.8" fill="#fff" transform="rotate(-30 561 488.1)" />
<line x1="566.2" y1="485.1" x2="587.59" y2="472.75" stroke="#f00" stroke-width="1" />
<line x1="574.7" y1="463.4" x2="603.1" y2="447.1" stroke="#333" stroke-width="2.0" />
<line x1="574.7" y1="463.4" x2="574.7" y2="472" stroke="#111" stroke-width="2.0" />
<path d="M548,497.8 L548,508" stroke="#1a1a1a" stroke-width="6.0" fill="none" stroke-linejoin="round" stroke-linecap="butt"/>
<path d="M548,497.8 L548,508" stroke="#fff" stroke-width="4.3" fill="none" stroke-linejoin="round" stroke-linecap="butt"/>
<path d="M548,497.8 L548,508" stroke="#f00" stroke-width="1" fill="none" stroke-dasharray="70 3 9 3" stroke-linejoin="round" transform="translate(0.5,0)"/>
<path d="M536.6,539.4 L536.6,543.6 A11.4,5 0 0 0 559.4,543.6 L559.4,539.4 Z" fill="#fff" stroke="#000" stroke-width="0.9"/>
<ellipse cx="548" cy="539.4" rx="11.4" ry="5" stroke="#000" stroke-width="0.9" fill="#fff" />
<path d="M536.6,543.9 L536.6,548.1 A11.4,5 0 0 0 559.4,548.1 L559.4,543.9 Z" fill="#fff" stroke="#000" stroke-width="0.9"/>
<ellipse cx="548" cy="543.9" rx="11.4" ry="5" stroke="#000" stroke-width="0.9" fill="#fff" />
<ellipse cx="548" cy="530.4" rx="11.17" ry="11.5" stroke="#000" stroke-width="0.9" fill="#fff" />
<path d="M536.6,516.9 L536.6,520.9 A11.4,5 0 0 0 559.4,520.9 L559.4,516.9 Z" fill="#fff" stroke="#000" stroke-width="0.9"/>
<ellipse cx="548" cy="516.9" rx="11.4" ry="5" stroke="#000" stroke-width="0.9" fill="#fff" />
<path d="M536.6,512.4 L536.6,516.4 A11.4,5 0 0 0 559.4,516.4 L559.4,512.4 Z" fill="#fff" stroke="#000" stroke-width="0.9"/>
<ellipse cx="548" cy="512.4" rx="11.4" ry="5" stroke="#000" stroke-width="0.9" fill="#fff" />
<ellipse cx="548" cy="512.4" rx="4.2" ry="2.1" stroke="#000" stroke-width="0.9" fill="#fff" />
<ellipse cx="548" cy="512.4" rx="2.4" ry="1.2" stroke="#000" stroke-width="0.8" fill="#fff" />
<line x1="548.5" y1="515.4" x2="548.5" y2="546.4" stroke="#f00" stroke-width="1" />
<line x1="532.2" y1="538.7" x2="532.2" y2="572.6" stroke="#444" stroke-width="2.0" />
<line x1="532.2" y1="538.9" x2="539" y2="536" stroke="#444" stroke-width="1.8" />
<path d="M819.6,380.9 L838.53,370 Q842,368 842,364 L842,237.6 Q842,233.6 845.47,231.61 L861.53,222.39 Q865,220.4 865,224.4 L865,229" stroke="#1a1a1a" stroke-width="6.0" fill="none" stroke-linejoin="round" stroke-linecap="butt"/>
<path d="M819.6,380.9 L838.53,370 Q842,368 842,364 L842,237.6 Q842,233.6 845.47,231.61 L861.53,222.39 Q865,220.4 865,224.4 L865,229" stroke="#fff" stroke-width="4.3" fill="none" stroke-linejoin="round" stroke-linecap="butt"/>
<path d="M819.6,380.9 L838.53,370 Q842,368 842,364 L842,237.6 Q842,233.6 845.47,231.61 L861.53,222.39 Q865,220.4 865,224.4 L865,229" stroke="#f00" stroke-width="1" fill="none" stroke-dasharray="70 3 9 3" stroke-linejoin="round" transform="translate(0.5,0)"/>
<path d="M837.23,370.74 L839.62,369.37 Q842,368 842,365.25 L842,362.5" stroke="#1a1a1a" stroke-width="7.0" fill="none" stroke-linejoin="round"/>
<path d="M837.23,370.74 L839.62,369.37 Q842,368 842,365.25 L842,362.5" stroke="#fff" stroke-width="5.3" fill="none" stroke-linejoin="round"/>
<path d="M837.23,370.74 L839.62,369.37 Q842,368 842,365.25 L842,362.5" stroke="#f00" stroke-width="1" fill="none" stroke-linejoin="round" transform="translate(0.5,0)"/>
<path d="M842,239.1 L842,236.35 Q842,233.6 844.39,232.23 L846.77,230.86" stroke="#1a1a1a" stroke-width="7.0" fill="none" stroke-linejoin="round"/>
<path d="M842,239.1 L842,236.35 Q842,233.6 844.39,232.23 L846.77,230.86" stroke="#fff" stroke-width="5.3" fill="none" stroke-linejoin="round"/>
<path d="M842,239.1 L842,236.35 Q842,233.6 844.39,232.23 L846.77,230.86" stroke="#f00" stroke-width="1" fill="none" stroke-linejoin="round" transform="translate(0.5,0)"/>
<path d="M860.23,223.14 L862.61,221.77 Q865,220.4 865,223.15 L865,225.9" stroke="#1a1a1a" stroke-width="7.0" fill="none" stroke-linejoin="round"/>
<path d="M860.23,223.14 L862.61,221.77 Q865,220.4 865,223.15 L865,225.9" stroke="#fff" stroke-width="5.3" fill="none" stroke-linejoin="round"/>
<path d="M860.23,223.14 L862.61,221.77 Q865,220.4 865,223.15 L865,225.9" stroke="#f00" stroke-width="1" fill="none" stroke-linejoin="round" transform="translate(0.5,0)"/>
<line x1="835.49" y1="367.71" x2="838.98" y2="373.78" stroke="#000" stroke-width="0.8"/>
<line x1="845.5" y1="362.5" x2="838.5" y2="362.5" stroke="#000" stroke-width="0.8"/>
<line x1="838.5" y1="239.1" x2="845.5" y2="239.1" stroke="#000" stroke-width="0.8"/>
<line x1="848.51" y1="233.9" x2="845.03" y2="227.83" stroke="#000" stroke-width="0.8"/>
<line x1="858.49" y1="220.1" x2="861.97" y2="226.17" stroke="#000" stroke-width="0.8"/>
<line x1="861.5" y1="225.9" x2="868.5" y2="225.9" stroke="#000" stroke-width="0.8"/>
<polygon points="770.7,426.5 812.4,402.5 843.9,420.7 802.2,444.7" stroke="#111" stroke-width="0.9" fill="#fff" />
<polygon points="770.7,426.5 802.2,444.7 802.2,456.7 770.7,438.5" stroke="#111" stroke-width="0.9" fill="#fff" />
<polygon points="802.2,444.7 843.9,420.7 843.9,432.7 802.2,456.7" stroke="#111" stroke-width="0.9" fill="#fff" />
<ellipse cx="822" cy="379.5" rx="6.8" ry="12" stroke="#000" stroke-width="0.9" fill="#fff" transform="rotate(-30 822 379.5)" />
<ellipse cx="819" cy="381.2" rx="6.8" ry="12" stroke="#000" stroke-width="0.9" fill="#fff" transform="rotate(-30 819 381.2)" />
<path d="M783.3,368 L783.3,424.5 A15.2,8.6 0 0 0 813.7,424.5 L813.7,368 Z" fill="#fff" stroke="none"/>
<line x1="783.3" y1="372" x2="783.3" y2="424.3" stroke="#000" stroke-width="0.9" />
<line x1="813.7" y1="372" x2="813.7" y2="424.3" stroke="#000" stroke-width="0.9" />
<path d="M779.5,365.6 L779.5,369 A19,11 0 0 0 817.5,369 L817.5,365.6 Z" fill="#fff" stroke="#000" stroke-width="0.9"/>
<ellipse cx="798.5" cy="365.6" rx="19" ry="11" stroke="#000" stroke-width="0.9" fill="#fff" />
<ellipse cx="798.5" cy="364.6" rx="16.5" ry="9.3" stroke="#000" stroke-width="0.8" fill="#fff" />
<ellipse cx="798.5" cy="362.5" rx="11" ry="6.2" stroke="#000" stroke-width="0.8" fill="#fff" />
<ellipse cx="785.5" cy="396.8" rx="6.8" ry="12" stroke="#000" stroke-width="0.9" fill="#fff" transform="rotate(-30 785.5 396.8)" />
<ellipse cx="782.5" cy="398.5" rx="6.8" ry="12" stroke="#000" stroke-width="0.9" fill="#fff" transform="rotate(-30 782.5 398.5)" />
<polygon points="792.5,359 794.5,336 799.5,335.5 798.5,359" stroke="#000" stroke-width="0.8" fill="#fff" />
<polygon points="794,350.5 798.7,350.3 798.6,356 794,356" stroke="#000" stroke-width="0.7" fill="none" />
<rect x="414.2" y="139.4" width="98.3" height="25" fill="#fff" stroke="#000" stroke-width="1.1"/>
<text x="429.9" y="157.9" font-family="Liberation Sans" font-size="12.6" text-anchor="start" textLength="14" lengthAdjust="spacingAndGlyphs" fill="#3a3a3a">To</text>
<text x="453" y="157.9" font-family="Liberation Sans" font-size="12.6" text-anchor="start" textLength="46.6" lengthAdjust="spacingAndGlyphs" fill="#3a3a3a">Process</text>
<line x1="512.5" y1="152.5" x2="542" y2="152.5" stroke="#000" stroke-width="1.1" />
<polygon points="550,152.5 540.4,155.8 540.4,149.2" fill="#000"/>
<rect x="281.4" y="413.6" width="98.1" height="24.7" fill="#fff" stroke="#000" stroke-width="1.1"/>
<text x="318.6" y="431.8" font-family="Liberation Sans" font-size="12.8" text-anchor="start" textLength="29.6" lengthAdjust="spacingAndGlyphs" fill="#3a3a3a">Drain</text>
<line x1="379.5" y1="426.5" x2="505" y2="426.5" stroke="#000" stroke-width="1.1" />
<polygon points="513.3,426.5 503.7,429.8 503.7,423.2" fill="#000"/>
<rect x="1001.6" y="46.7" width="125" height="39.1" fill="#fff" stroke="#000" stroke-width="1.1"/>
<text x="1016.9" y="62.7" font-family="Liberation Sans" font-size="12.6" text-anchor="start" textLength="26" lengthAdjust="spacingAndGlyphs" fill="#3a3a3a">Vent</text>
<line x1="1052.6" y1="64.8" x2="1058.8" y2="53" stroke="#222" stroke-width="1.1" />
<text x="1016.9" y="76.4" font-family="Liberation Sans" font-size="12.6" text-anchor="start" textLength="51.3" lengthAdjust="spacingAndGlyphs" fill="#3a3a3a">Pressure</text>
<text x="1077.8" y="76.4" font-family="Liberation Sans" font-size="12.6" text-anchor="start" textLength="31.9" lengthAdjust="spacingAndGlyphs" fill="#3a3a3a">Relief</text>
<line x1="1001.6" y1="66.5" x2="955" y2="66.5" stroke="#000" stroke-width="1.1" />
<polygon points="947.7,66.5 957.3,63.2 957.3,69.8" fill="#000"/>
<line x1="366.9" y1="489.5" x2="403.9" y2="489.5" stroke="#000" stroke-width="1" />
<polygon points="403.9,489.5 394.3,492.8 394.3,486.2" fill="#000"/>
<ellipse cx="358.5" cy="489.5" rx="8.4" ry="8.4" stroke="#222" stroke-width="0.9" fill="#fff" />
<text x="358.5" y="492.6" font-family="Liberation Sans" font-size="8" text-anchor="middle" fill="#3a3a3a">1</text>
<line x1="456.6" y1="265.5" x2="493" y2="265.5" stroke="#000" stroke-width="1" />
<polygon points="493,265.5 483.4,268.8 483.4,262.2" fill="#000"/>
<ellipse cx="448.2" cy="265.5" rx="8.4" ry="8.4" stroke="#222" stroke-width="0.9" fill="#fff" />
<text x="448.2" y="268.6" font-family="Liberation Sans" font-size="8" text-anchor="middle" fill="#3a3a3a">14</text>
<line x1="456.6" y1="325.5" x2="493" y2="325.5" stroke="#000" stroke-width="1" />
<polygon points="493,325.5 483.4,328.8 483.4,322.2" fill="#000"/>
<ellipse cx="448.2" cy="325.5" rx="8.4" ry="8.4" stroke="#222" stroke-width="0.9" fill="#fff" />
<text x="448.2" y="328.6" font-family="Liberation Sans" font-size="8" text-anchor="middle" fill="#3a3a3a">3</text>
<line x1="439.8" y1="404.5" x2="475.5" y2="404.5" stroke="#000" stroke-width="1" />
<polygon points="475.5,404.5 465.9,407.8 465.9,401.2" fill="#000"/>
<ellipse cx="431.4" cy="404.5" rx="8.4" ry="8.4" stroke="#222" stroke-width="0.9" fill="#fff" />
<text x="431.4" y="407.6" font-family="Liberation Sans" font-size="8" text-anchor="middle" fill="#3a3a3a">11</text>
<line x1="548.5" y1="385.4" x2="548.5" y2="355.5" stroke="#000" stroke-width="1" />
<polygon points="548.5,355.5 551.8,365.1 545.2,365.1" fill="#000"/>
<ellipse cx="548.5" cy="393.8" rx="8.4" ry="8.4" stroke="#222" stroke-width="0.9" fill="#fff" />
<text x="548.5" y="396.9" font-family="Liberation Sans" font-size="8" text-anchor="middle" fill="#3a3a3a">4</text>
<line x1="598.2" y1="357" x2="577.5" y2="357" stroke="#000" stroke-width="1" />
<polygon points="577.5,357 587.1,353.7 587.1,360.3" fill="#000"/>
<ellipse cx="606.6" cy="357" rx="8.4" ry="8.4" stroke="#222" stroke-width="0.9" fill="#fff" />
<text x="606.6" y="360.1" font-family="Liberation Sans" font-size="8" text-anchor="middle" fill="#3a3a3a">5</text>
<line x1="596.58" y1="396.12" x2="583.5" y2="411.6" stroke="#000" stroke-width="1" />
<polygon points="583.5,411.6 587.17,402.14 592.22,406.4" fill="#000"/>
<ellipse cx="602" cy="389.7" rx="8.4" ry="8.4" stroke="#222" stroke-width="0.9" fill="#fff" />
<text x="602" y="392.8" font-family="Liberation Sans" font-size="8" text-anchor="middle" fill="#3a3a3a">12</text>
<line x1="798.4" y1="195.5" x2="834.5" y2="195.5" stroke="#000" stroke-width="1" />
<polygon points="834.5,195.5 824.9,198.8 824.9,192.2" fill="#000"/>
<ellipse cx="790" cy="195.5" rx="8.4" ry="8.4" stroke="#222" stroke-width="0.9" fill="#fff" />
<text x="790" y="198.6" font-family="Liberation Sans" font-size="8" text-anchor="middle" fill="#3a3a3a">6</text>
<line x1="702.4" y1="447.5" x2="681.4" y2="447.5" stroke="#000" stroke-width="1" />
<polygon points="681.4,447.5 691,444.2 691,450.8" fill="#000"/>
<ellipse cx="710.8" cy="447.5" rx="8.4" ry="8.4" stroke="#222" stroke-width="0.9" fill="#fff" />
<text x="710.8" y="450.6" font-family="Liberation Sans" font-size="8" text-anchor="middle" fill="#3a3a3a">7</text>
<line x1="759.79" y1="494.93" x2="734.4" y2="470.1" stroke="#000" stroke-width="1" />
<polygon points="734.4,470.1 743.57,474.45 738.96,479.17" fill="#000"/>
<ellipse cx="765.8" cy="500.8" rx="8.4" ry="8.4" stroke="#222" stroke-width="0.9" fill="#fff" />
<text x="765.8" y="503.9" font-family="Liberation Sans" font-size="8" text-anchor="middle" fill="#3a3a3a">13</text>
<line x1="853.36" y1="471.37" x2="827.6" y2="446.5" stroke="#000" stroke-width="1" />
<polygon points="827.6,446.5 836.8,450.79 832.21,455.54" fill="#000"/>
<ellipse cx="859.4" cy="477.2" rx="8.4" ry="8.4" stroke="#222" stroke-width="0.9" fill="#fff" />
<text x="859.4" y="480.3" font-family="Liberation Sans" font-size="8" text-anchor="middle" fill="#3a3a3a">15</text>
<line x1="646.13" y1="566.69" x2="620" y2="540.8" stroke="#000" stroke-width="1" />
<polygon points="620,540.8 629.14,545.21 624.5,549.9" fill="#000"/>
<ellipse cx="652.1" cy="572.6" rx="8.4" ry="8.4" stroke="#222" stroke-width="0.9" fill="#fff" />
<text x="652.1" y="575.7" font-family="Liberation Sans" font-size="8" text-anchor="middle" fill="#3a3a3a">10</text>
<line x1="606.19" y1="591.23" x2="579.3" y2="565" stroke="#000" stroke-width="1" />
<polygon points="579.3,565 588.48,569.34 583.87,574.07" fill="#000"/>
<ellipse cx="612.2" cy="597.1" rx="8.4" ry="8.4" stroke="#222" stroke-width="0.9" fill="#fff" />
<text x="612.2" y="600.2" font-family="Liberation Sans" font-size="8" text-anchor="middle" fill="#3a3a3a">9</text>
<line x1="574.93" y1="600.49" x2="548.1" y2="574.8" stroke="#000" stroke-width="1" />
<polygon points="548.1,574.8 557.32,579.06 552.75,583.82" fill="#000"/>
<ellipse cx="581" cy="606.3" rx="8.4" ry="8.4" stroke="#222" stroke-width="0.9" fill="#fff" />
<text x="581" y="609.4" font-family="Liberation Sans" font-size="8" text-anchor="middle" fill="#3a3a3a">2</text>
<line x1="511.18" y1="597.24" x2="522.9" y2="562.5" stroke="#000" stroke-width="1" />
<polygon points="522.9,562.5 522.96,572.65 516.71,570.54" fill="#000"/>
<ellipse cx="508.5" cy="605.2" rx="8.4" ry="8.4" stroke="#222" stroke-width="0.9" fill="#fff" />
<text x="508.5" y="608.3" font-family="Liberation Sans" font-size="8" text-anchor="middle" fill="#3a3a3a">8</text>
</svg></body></html>
